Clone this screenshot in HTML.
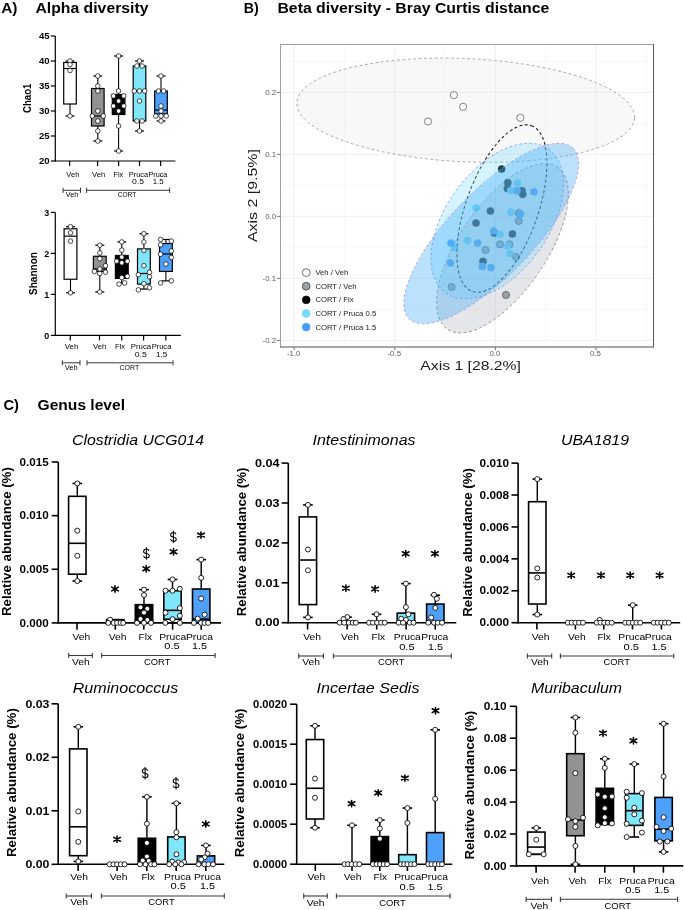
<!DOCTYPE html>
<html><head><meta charset="utf-8"><style>
html,body{margin:0;padding:0;background:#fff;}
svg{display:block;font-family:"Liberation Sans", sans-serif;will-change:transform;}
</style></head><body>
<svg width="685" height="910" viewBox="0 0 685 910">
<rect x="0" y="0" width="685" height="910" fill="#fff"/>
<text x="1.20" y="12.50" font-size="14.8" font-weight="bold" textLength="16.30" lengthAdjust="spacingAndGlyphs" >A)</text>
<text x="35.50" y="12.50" font-size="14.8" font-weight="bold" textLength="112.90" lengthAdjust="spacingAndGlyphs" >Alpha diversity</text>
<line x1="70.00" y1="61.00" x2="70.00" y2="62.50" stroke="#000" stroke-width="1.08" />
<line x1="70.00" y1="104.00" x2="70.00" y2="116.00" stroke="#000" stroke-width="1.08" />
<line x1="65.50" y1="61.00" x2="74.50" y2="61.00" stroke="#000" stroke-width="1.2" />
<line x1="65.50" y1="116.00" x2="74.50" y2="116.00" stroke="#000" stroke-width="1.2" />
<rect x="63.70" y="62.50" width="12.60" height="41.50" fill="#fff" stroke="#000" stroke-width="1.2"/>
<line x1="63.70" y1="68.50" x2="76.30" y2="68.50" stroke="#000" stroke-width="1.2" />
<line x1="97.80" y1="76.00" x2="97.80" y2="88.50" stroke="#000" stroke-width="1.08" />
<line x1="97.80" y1="126.00" x2="97.80" y2="141.00" stroke="#000" stroke-width="1.08" />
<line x1="93.30" y1="76.00" x2="102.30" y2="76.00" stroke="#000" stroke-width="1.2" />
<line x1="93.30" y1="141.00" x2="102.30" y2="141.00" stroke="#000" stroke-width="1.2" />
<rect x="91.50" y="88.50" width="12.60" height="37.50" fill="#929292" stroke="#000" stroke-width="1.2"/>
<line x1="91.50" y1="116.00" x2="104.10" y2="116.00" stroke="#000" stroke-width="1.2" />
<line x1="118.60" y1="56.00" x2="118.60" y2="94.50" stroke="#000" stroke-width="1.08" />
<line x1="118.60" y1="114.50" x2="118.60" y2="151.00" stroke="#000" stroke-width="1.08" />
<line x1="114.10" y1="56.00" x2="123.10" y2="56.00" stroke="#000" stroke-width="1.2" />
<line x1="114.10" y1="151.00" x2="123.10" y2="151.00" stroke="#000" stroke-width="1.2" />
<rect x="112.30" y="94.50" width="12.60" height="20.00" fill="#000" stroke="#000" stroke-width="1.2"/>
<line x1="139.50" y1="61.00" x2="139.50" y2="66.00" stroke="#000" stroke-width="1.08" />
<line x1="139.50" y1="121.00" x2="139.50" y2="131.00" stroke="#000" stroke-width="1.08" />
<line x1="135.00" y1="61.00" x2="144.00" y2="61.00" stroke="#000" stroke-width="1.2" />
<line x1="135.00" y1="131.00" x2="144.00" y2="131.00" stroke="#000" stroke-width="1.2" />
<rect x="133.20" y="66.00" width="12.60" height="55.00" fill="#80e7fb" stroke="#000" stroke-width="1.2"/>
<line x1="133.20" y1="91.00" x2="145.80" y2="91.00" stroke="#000" stroke-width="1.2" />
<line x1="161.00" y1="76.00" x2="161.00" y2="91.00" stroke="#000" stroke-width="1.08" />
<line x1="161.00" y1="114.00" x2="161.00" y2="121.00" stroke="#000" stroke-width="1.08" />
<line x1="156.50" y1="76.00" x2="165.50" y2="76.00" stroke="#000" stroke-width="1.2" />
<line x1="156.50" y1="121.00" x2="165.50" y2="121.00" stroke="#000" stroke-width="1.2" />
<rect x="154.70" y="91.00" width="12.60" height="23.00" fill="#4ea0fa" stroke="#000" stroke-width="1.2"/>
<line x1="154.70" y1="110.00" x2="167.30" y2="110.00" stroke="#000" stroke-width="1.2" />
<line x1="55.30" y1="36.00" x2="55.30" y2="161.60" stroke="#000" stroke-width="1.2" />
<line x1="54.70" y1="161.00" x2="175.40" y2="161.00" stroke="#000" stroke-width="1.2" />
<line x1="50.80" y1="161.00" x2="55.30" y2="161.00" stroke="#000" stroke-width="1.2" />
<text x="49.50" y="164.20" font-size="9.8" font-weight="bold" text-anchor="end" textLength="10.60" lengthAdjust="spacingAndGlyphs" >20</text>
<line x1="50.80" y1="136.00" x2="55.30" y2="136.00" stroke="#000" stroke-width="1.2" />
<text x="49.50" y="139.20" font-size="9.8" font-weight="bold" text-anchor="end" textLength="10.60" lengthAdjust="spacingAndGlyphs" >25</text>
<line x1="50.80" y1="111.00" x2="55.30" y2="111.00" stroke="#000" stroke-width="1.2" />
<text x="49.50" y="114.20" font-size="9.8" font-weight="bold" text-anchor="end" textLength="10.60" lengthAdjust="spacingAndGlyphs" >30</text>
<line x1="50.80" y1="86.00" x2="55.30" y2="86.00" stroke="#000" stroke-width="1.2" />
<text x="49.50" y="89.20" font-size="9.8" font-weight="bold" text-anchor="end" textLength="10.60" lengthAdjust="spacingAndGlyphs" >35</text>
<line x1="50.80" y1="61.00" x2="55.30" y2="61.00" stroke="#000" stroke-width="1.2" />
<text x="49.50" y="64.20" font-size="9.8" font-weight="bold" text-anchor="end" textLength="10.60" lengthAdjust="spacingAndGlyphs" >40</text>
<line x1="50.80" y1="36.00" x2="55.30" y2="36.00" stroke="#000" stroke-width="1.2" />
<text x="49.50" y="39.20" font-size="9.8" font-weight="bold" text-anchor="end" textLength="10.60" lengthAdjust="spacingAndGlyphs" >45</text>
<line x1="69.60" y1="161.00" x2="69.60" y2="166.00" stroke="#000" stroke-width="1.2" />
<line x1="97.60" y1="161.00" x2="97.60" y2="166.00" stroke="#000" stroke-width="1.2" />
<line x1="118.60" y1="161.00" x2="118.60" y2="166.00" stroke="#000" stroke-width="1.2" />
<line x1="139.50" y1="161.00" x2="139.50" y2="166.00" stroke="#000" stroke-width="1.2" />
<line x1="160.60" y1="161.00" x2="160.60" y2="166.00" stroke="#000" stroke-width="1.2" />
<circle cx="70.00" cy="61.00" r="2.3" fill="#fff" stroke="#000" stroke-width="0.7" />
<circle cx="70.00" cy="64.50" r="2.3" fill="#fff" stroke="#000" stroke-width="0.7" />
<circle cx="70.00" cy="70.50" r="2.3" fill="#fff" stroke="#000" stroke-width="0.7" />
<circle cx="70.00" cy="116.00" r="2.3" fill="#fff" stroke="#000" stroke-width="0.7" />
<circle cx="97.80" cy="76.00" r="2.3" fill="#fff" stroke="#000" stroke-width="0.7" />
<circle cx="97.80" cy="86.00" r="2.3" fill="#fff" stroke="#000" stroke-width="0.7" />
<circle cx="97.80" cy="91.00" r="2.3" fill="#fff" stroke="#000" stroke-width="0.7" />
<circle cx="97.80" cy="111.00" r="2.3" fill="#fff" stroke="#000" stroke-width="0.7" />
<circle cx="92.30" cy="116.00" r="2.3" fill="#fff" stroke="#000" stroke-width="0.7" />
<circle cx="103.30" cy="116.00" r="2.3" fill="#fff" stroke="#000" stroke-width="0.7" />
<circle cx="97.80" cy="121.00" r="2.3" fill="#fff" stroke="#000" stroke-width="0.7" />
<circle cx="97.80" cy="131.00" r="2.3" fill="#fff" stroke="#000" stroke-width="0.7" />
<circle cx="97.80" cy="141.00" r="2.3" fill="#fff" stroke="#000" stroke-width="0.7" />
<circle cx="118.60" cy="56.00" r="2.3" fill="#fff" stroke="#000" stroke-width="0.7" />
<circle cx="118.60" cy="91.00" r="2.3" fill="#fff" stroke="#000" stroke-width="0.7" />
<circle cx="113.40" cy="96.00" r="2.3" fill="#fff" stroke="#000" stroke-width="0.7" />
<circle cx="123.80" cy="96.00" r="2.3" fill="#fff" stroke="#000" stroke-width="0.7" />
<circle cx="118.60" cy="101.00" r="2.3" fill="#fff" stroke="#000" stroke-width="0.7" />
<circle cx="113.40" cy="106.00" r="2.3" fill="#fff" stroke="#000" stroke-width="0.7" />
<circle cx="123.80" cy="106.00" r="2.3" fill="#fff" stroke="#000" stroke-width="0.7" />
<circle cx="118.60" cy="111.00" r="2.3" fill="#fff" stroke="#000" stroke-width="0.7" />
<circle cx="118.60" cy="126.00" r="2.3" fill="#fff" stroke="#000" stroke-width="0.7" />
<circle cx="118.60" cy="151.00" r="2.3" fill="#fff" stroke="#000" stroke-width="0.7" />
<circle cx="139.50" cy="61.00" r="2.3" fill="#fff" stroke="#000" stroke-width="0.7" />
<circle cx="136.90" cy="66.00" r="2.3" fill="#fff" stroke="#000" stroke-width="0.7" />
<circle cx="142.10" cy="66.00" r="2.3" fill="#fff" stroke="#000" stroke-width="0.7" />
<circle cx="134.30" cy="91.00" r="2.3" fill="#fff" stroke="#000" stroke-width="0.7" />
<circle cx="139.50" cy="91.00" r="2.3" fill="#fff" stroke="#000" stroke-width="0.7" />
<circle cx="144.70" cy="91.00" r="2.3" fill="#fff" stroke="#000" stroke-width="0.7" />
<circle cx="139.50" cy="101.00" r="2.3" fill="#fff" stroke="#000" stroke-width="0.7" />
<circle cx="136.90" cy="121.00" r="2.3" fill="#fff" stroke="#000" stroke-width="0.7" />
<circle cx="142.10" cy="121.00" r="2.3" fill="#fff" stroke="#000" stroke-width="0.7" />
<circle cx="139.50" cy="131.00" r="2.3" fill="#fff" stroke="#000" stroke-width="0.7" />
<circle cx="161.00" cy="76.00" r="2.3" fill="#fff" stroke="#000" stroke-width="0.7" />
<circle cx="158.40" cy="91.00" r="2.3" fill="#fff" stroke="#000" stroke-width="0.7" />
<circle cx="163.60" cy="91.00" r="2.3" fill="#fff" stroke="#000" stroke-width="0.7" />
<circle cx="161.00" cy="106.00" r="2.3" fill="#fff" stroke="#000" stroke-width="0.7" />
<circle cx="161.00" cy="111.00" r="2.3" fill="#fff" stroke="#000" stroke-width="0.7" />
<circle cx="155.80" cy="116.00" r="2.3" fill="#fff" stroke="#000" stroke-width="0.7" />
<circle cx="161.00" cy="116.00" r="2.3" fill="#fff" stroke="#000" stroke-width="0.7" />
<circle cx="166.20" cy="116.00" r="2.3" fill="#fff" stroke="#000" stroke-width="0.7" />
<circle cx="161.00" cy="121.00" r="2.3" fill="#fff" stroke="#000" stroke-width="0.7" />
<text x="31.50" y="98.30" font-size="10" font-weight="bold" text-anchor="middle" textLength="29.60" lengthAdjust="spacingAndGlyphs" transform="rotate(-90 31.50 98.30)" >Chao1</text>
<text x="72.90" y="177.00" font-size="7.4" text-anchor="middle" textLength="13.10" lengthAdjust="spacingAndGlyphs" >Veh</text>
<text x="98.70" y="177.00" font-size="7.4" text-anchor="middle" textLength="13.20" lengthAdjust="spacingAndGlyphs" >Veh</text>
<text x="118.30" y="177.00" font-size="7.4" text-anchor="middle" textLength="9.80" lengthAdjust="spacingAndGlyphs" >Flx</text>
<text x="138.40" y="177.00" font-size="7.4" text-anchor="middle" textLength="19.30" lengthAdjust="spacingAndGlyphs" >Pruca</text>
<text x="157.90" y="177.00" font-size="7.4" text-anchor="middle" textLength="19.00" lengthAdjust="spacingAndGlyphs" >Pruca</text>
<text x="138.00" y="184.20" font-size="7.4" text-anchor="middle" textLength="12.00" lengthAdjust="spacingAndGlyphs" >0.5</text>
<text x="158.20" y="184.20" font-size="7.4" text-anchor="middle" textLength="10.90" lengthAdjust="spacingAndGlyphs" >1.5</text>
<line x1="63.00" y1="190.30" x2="80.50" y2="190.30" stroke="#222" stroke-width="0.9" />
<line x1="63.00" y1="187.70" x2="63.00" y2="192.90" stroke="#222" stroke-width="0.9" />
<line x1="80.50" y1="187.70" x2="80.50" y2="192.90" stroke="#222" stroke-width="0.9" />
<line x1="86.60" y1="190.30" x2="169.60" y2="190.30" stroke="#222" stroke-width="0.9" />
<line x1="86.60" y1="187.70" x2="86.60" y2="192.90" stroke="#222" stroke-width="0.9" />
<line x1="169.60" y1="187.70" x2="169.60" y2="192.90" stroke="#222" stroke-width="0.9" />
<text x="72.00" y="197.40" font-size="7.4" text-anchor="middle" textLength="12.50" lengthAdjust="spacingAndGlyphs" >Veh</text>
<text x="127.00" y="197.40" font-size="7.4" text-anchor="middle" textLength="18.60" lengthAdjust="spacingAndGlyphs" >CORT</text>
<line x1="70.50" y1="226.75" x2="70.50" y2="228.80" stroke="#000" stroke-width="1.08" />
<line x1="70.50" y1="279.23" x2="70.50" y2="292.76" stroke="#000" stroke-width="1.08" />
<line x1="66.00" y1="226.75" x2="75.00" y2="226.75" stroke="#000" stroke-width="1.2" />
<line x1="66.00" y1="292.76" x2="75.00" y2="292.76" stroke="#000" stroke-width="1.2" />
<rect x="64.10" y="228.80" width="12.80" height="50.43" fill="#fff" stroke="#000" stroke-width="1.2"/>
<line x1="64.10" y1="236.18" x2="76.90" y2="236.18" stroke="#000" stroke-width="1.2" />
<line x1="99.80" y1="245.20" x2="99.80" y2="256.27" stroke="#000" stroke-width="1.08" />
<line x1="99.80" y1="271.44" x2="99.80" y2="291.94" stroke="#000" stroke-width="1.08" />
<line x1="95.30" y1="245.20" x2="104.30" y2="245.20" stroke="#000" stroke-width="1.2" />
<line x1="95.30" y1="291.94" x2="104.30" y2="291.94" stroke="#000" stroke-width="1.2" />
<rect x="93.40" y="256.27" width="12.80" height="15.17" fill="#929292" stroke="#000" stroke-width="1.2"/>
<line x1="93.40" y1="268.98" x2="106.20" y2="268.98" stroke="#000" stroke-width="1.2" />
<line x1="121.80" y1="241.92" x2="121.80" y2="255.45" stroke="#000" stroke-width="1.08" />
<line x1="121.80" y1="278.41" x2="121.80" y2="282.92" stroke="#000" stroke-width="1.08" />
<line x1="117.30" y1="241.92" x2="126.30" y2="241.92" stroke="#000" stroke-width="1.2" />
<line x1="117.30" y1="282.92" x2="126.30" y2="282.92" stroke="#000" stroke-width="1.2" />
<rect x="115.40" y="255.45" width="12.80" height="22.96" fill="#000" stroke="#000" stroke-width="1.2"/>
<line x1="143.90" y1="233.72" x2="143.90" y2="248.89" stroke="#000" stroke-width="1.08" />
<line x1="143.90" y1="284.15" x2="143.90" y2="289.07" stroke="#000" stroke-width="1.08" />
<line x1="139.40" y1="233.72" x2="148.40" y2="233.72" stroke="#000" stroke-width="1.2" />
<line x1="139.40" y1="289.07" x2="148.40" y2="289.07" stroke="#000" stroke-width="1.2" />
<rect x="137.50" y="248.89" width="12.80" height="35.26" fill="#80e7fb" stroke="#000" stroke-width="1.2"/>
<line x1="137.50" y1="273.49" x2="150.30" y2="273.49" stroke="#000" stroke-width="1.2" />
<line x1="165.90" y1="239.46" x2="165.90" y2="243.56" stroke="#000" stroke-width="1.08" />
<line x1="165.90" y1="271.44" x2="165.90" y2="280.87" stroke="#000" stroke-width="1.08" />
<line x1="161.40" y1="239.46" x2="170.40" y2="239.46" stroke="#000" stroke-width="1.2" />
<line x1="161.40" y1="280.87" x2="170.40" y2="280.87" stroke="#000" stroke-width="1.2" />
<rect x="159.50" y="243.56" width="12.80" height="27.88" fill="#4ea0fa" stroke="#000" stroke-width="1.2"/>
<line x1="159.50" y1="254.01" x2="172.30" y2="254.01" stroke="#000" stroke-width="1.2" />
<line x1="55.30" y1="212.40" x2="55.30" y2="336.00" stroke="#000" stroke-width="1.2" />
<line x1="54.70" y1="335.40" x2="180.80" y2="335.40" stroke="#000" stroke-width="1.2" />
<line x1="50.80" y1="335.40" x2="55.30" y2="335.40" stroke="#000" stroke-width="1.2" />
<text x="49.20" y="338.90" font-size="9.8" font-weight="bold" text-anchor="end" textLength="5.00" lengthAdjust="spacingAndGlyphs" >0</text>
<line x1="50.80" y1="294.40" x2="55.30" y2="294.40" stroke="#000" stroke-width="1.2" />
<text x="49.20" y="297.90" font-size="9.8" font-weight="bold" text-anchor="end" textLength="5.00" lengthAdjust="spacingAndGlyphs" >1</text>
<line x1="50.80" y1="253.40" x2="55.30" y2="253.40" stroke="#000" stroke-width="1.2" />
<text x="49.20" y="256.90" font-size="9.8" font-weight="bold" text-anchor="end" textLength="5.00" lengthAdjust="spacingAndGlyphs" >2</text>
<line x1="50.80" y1="212.40" x2="55.30" y2="212.40" stroke="#000" stroke-width="1.2" />
<text x="49.20" y="215.90" font-size="9.8" font-weight="bold" text-anchor="end" textLength="5.00" lengthAdjust="spacingAndGlyphs" >3</text>
<line x1="70.30" y1="335.40" x2="70.30" y2="340.40" stroke="#000" stroke-width="1.2" />
<line x1="99.50" y1="335.40" x2="99.50" y2="340.40" stroke="#000" stroke-width="1.2" />
<line x1="121.70" y1="335.40" x2="121.70" y2="340.40" stroke="#000" stroke-width="1.2" />
<line x1="143.60" y1="335.40" x2="143.60" y2="340.40" stroke="#000" stroke-width="1.2" />
<line x1="165.80" y1="335.40" x2="165.80" y2="340.40" stroke="#000" stroke-width="1.2" />
<circle cx="70.50" cy="226.75" r="2.3" fill="#fff" stroke="#000" stroke-width="0.7" />
<circle cx="70.50" cy="232.90" r="2.3" fill="#fff" stroke="#000" stroke-width="0.7" />
<circle cx="70.50" cy="241.10" r="2.3" fill="#fff" stroke="#000" stroke-width="0.7" />
<circle cx="70.50" cy="292.76" r="2.3" fill="#fff" stroke="#000" stroke-width="0.7" />
<circle cx="99.80" cy="245.20" r="2.3" fill="#fff" stroke="#000" stroke-width="0.7" />
<circle cx="99.80" cy="252.99" r="2.3" fill="#fff" stroke="#000" stroke-width="0.7" />
<circle cx="99.80" cy="258.73" r="2.3" fill="#fff" stroke="#000" stroke-width="0.7" />
<circle cx="105.50" cy="265.70" r="2.3" fill="#fff" stroke="#000" stroke-width="0.7" />
<circle cx="99.80" cy="268.98" r="2.3" fill="#fff" stroke="#000" stroke-width="0.7" />
<circle cx="94.40" cy="271.44" r="2.3" fill="#fff" stroke="#000" stroke-width="0.7" />
<circle cx="105.50" cy="272.26" r="2.3" fill="#fff" stroke="#000" stroke-width="0.7" />
<circle cx="99.80" cy="273.49" r="2.3" fill="#fff" stroke="#000" stroke-width="0.7" />
<circle cx="99.80" cy="291.94" r="2.3" fill="#fff" stroke="#000" stroke-width="0.7" />
<circle cx="121.80" cy="241.92" r="2.3" fill="#fff" stroke="#000" stroke-width="0.7" />
<circle cx="121.80" cy="250.12" r="2.3" fill="#fff" stroke="#000" stroke-width="0.7" />
<circle cx="121.80" cy="257.09" r="2.3" fill="#fff" stroke="#000" stroke-width="0.7" />
<circle cx="116.60" cy="261.19" r="2.3" fill="#fff" stroke="#000" stroke-width="0.7" />
<circle cx="127.30" cy="261.19" r="2.3" fill="#fff" stroke="#000" stroke-width="0.7" />
<circle cx="121.80" cy="262.83" r="2.3" fill="#fff" stroke="#000" stroke-width="0.7" />
<circle cx="121.80" cy="277.59" r="2.3" fill="#fff" stroke="#000" stroke-width="0.7" />
<circle cx="127.30" cy="276.36" r="2.3" fill="#fff" stroke="#000" stroke-width="0.7" />
<circle cx="119.00" cy="284.15" r="2.3" fill="#fff" stroke="#000" stroke-width="0.7" />
<circle cx="124.60" cy="282.92" r="2.3" fill="#fff" stroke="#000" stroke-width="0.7" />
<circle cx="143.90" cy="233.72" r="2.3" fill="#fff" stroke="#000" stroke-width="0.7" />
<circle cx="143.90" cy="241.92" r="2.3" fill="#fff" stroke="#000" stroke-width="0.7" />
<circle cx="143.90" cy="250.53" r="2.3" fill="#fff" stroke="#000" stroke-width="0.7" />
<circle cx="143.90" cy="265.70" r="2.3" fill="#fff" stroke="#000" stroke-width="0.7" />
<circle cx="138.40" cy="274.72" r="2.3" fill="#fff" stroke="#000" stroke-width="0.7" />
<circle cx="149.50" cy="272.26" r="2.3" fill="#fff" stroke="#000" stroke-width="0.7" />
<circle cx="149.50" cy="276.77" r="2.3" fill="#fff" stroke="#000" stroke-width="0.7" />
<circle cx="143.90" cy="283.74" r="2.3" fill="#fff" stroke="#000" stroke-width="0.7" />
<circle cx="138.40" cy="289.89" r="2.3" fill="#fff" stroke="#000" stroke-width="0.7" />
<circle cx="149.50" cy="287.84" r="2.3" fill="#fff" stroke="#000" stroke-width="0.7" />
<circle cx="160.60" cy="239.46" r="2.3" fill="#fff" stroke="#000" stroke-width="0.7" />
<circle cx="171.30" cy="241.10" r="2.3" fill="#fff" stroke="#000" stroke-width="0.7" />
<circle cx="160.60" cy="244.79" r="2.3" fill="#fff" stroke="#000" stroke-width="0.7" />
<circle cx="171.30" cy="250.94" r="2.3" fill="#fff" stroke="#000" stroke-width="0.7" />
<circle cx="160.60" cy="254.22" r="2.3" fill="#fff" stroke="#000" stroke-width="0.7" />
<circle cx="171.30" cy="257.50" r="2.3" fill="#fff" stroke="#000" stroke-width="0.7" />
<circle cx="165.90" cy="264.06" r="2.3" fill="#fff" stroke="#000" stroke-width="0.7" />
<circle cx="160.60" cy="282.92" r="2.3" fill="#fff" stroke="#000" stroke-width="0.7" />
<circle cx="171.30" cy="280.87" r="2.3" fill="#fff" stroke="#000" stroke-width="0.7" />
<text x="36.50" y="273.50" font-size="10" font-weight="bold" text-anchor="middle" textLength="43.00" lengthAdjust="spacingAndGlyphs" transform="rotate(-90 36.50 273.50)" >Shannon</text>
<text x="71.50" y="348.60" font-size="7.4" text-anchor="middle" textLength="13.60" lengthAdjust="spacingAndGlyphs" >Veh</text>
<text x="99.60" y="348.60" font-size="7.4" text-anchor="middle" textLength="13.30" lengthAdjust="spacingAndGlyphs" >Veh</text>
<text x="120.00" y="348.60" font-size="7.4" text-anchor="middle" textLength="9.90" lengthAdjust="spacingAndGlyphs" >Flx</text>
<text x="141.00" y="348.60" font-size="7.4" text-anchor="middle" textLength="20.30" lengthAdjust="spacingAndGlyphs" >Pruca</text>
<text x="161.50" y="348.60" font-size="7.4" text-anchor="middle" textLength="19.70" lengthAdjust="spacingAndGlyphs" >Pruca</text>
<text x="140.80" y="356.70" font-size="7.4" text-anchor="middle" textLength="12.00" lengthAdjust="spacingAndGlyphs" >0.5</text>
<text x="161.70" y="356.70" font-size="7.4" text-anchor="middle" textLength="11.40" lengthAdjust="spacingAndGlyphs" >1.5</text>
<line x1="62.30" y1="362.80" x2="80.00" y2="362.80" stroke="#222" stroke-width="0.9" />
<line x1="62.30" y1="360.20" x2="62.30" y2="365.40" stroke="#222" stroke-width="0.9" />
<line x1="80.00" y1="360.20" x2="80.00" y2="365.40" stroke="#222" stroke-width="0.9" />
<line x1="87.00" y1="362.80" x2="173.00" y2="362.80" stroke="#222" stroke-width="0.9" />
<line x1="87.00" y1="360.20" x2="87.00" y2="365.40" stroke="#222" stroke-width="0.9" />
<line x1="173.00" y1="360.20" x2="173.00" y2="365.40" stroke="#222" stroke-width="0.9" />
<text x="71.20" y="370.20" font-size="7.4" text-anchor="middle" textLength="13.00" lengthAdjust="spacingAndGlyphs" >Veh</text>
<text x="129.40" y="370.20" font-size="7.4" text-anchor="middle" textLength="19.70" lengthAdjust="spacingAndGlyphs" >CORT</text>
<text x="243.70" y="12.80" font-size="14.8" font-weight="bold" textLength="15.00" lengthAdjust="spacingAndGlyphs" >B)</text>
<text x="277.40" y="12.80" font-size="14.8" font-weight="bold" textLength="271.90" lengthAdjust="spacingAndGlyphs" >Beta diversity - Bray Curtis distance</text>
<line x1="344.50" y1="44.50" x2="344.50" y2="347.00" stroke="#f0f0f0" stroke-width="0.5" />
<line x1="445.10" y1="44.50" x2="445.10" y2="347.00" stroke="#f0f0f0" stroke-width="0.5" />
<line x1="545.70" y1="44.50" x2="545.70" y2="347.00" stroke="#f0f0f0" stroke-width="0.5" />
<line x1="646.30" y1="44.50" x2="646.30" y2="347.00" stroke="#f0f0f0" stroke-width="0.5" />
<line x1="280.50" y1="61.40" x2="653.50" y2="61.40" stroke="#f0f0f0" stroke-width="0.5" />
<line x1="280.50" y1="123.40" x2="653.50" y2="123.40" stroke="#f0f0f0" stroke-width="0.5" />
<line x1="280.50" y1="185.40" x2="653.50" y2="185.40" stroke="#f0f0f0" stroke-width="0.5" />
<line x1="280.50" y1="247.40" x2="653.50" y2="247.40" stroke="#f0f0f0" stroke-width="0.5" />
<line x1="280.50" y1="309.40" x2="653.50" y2="309.40" stroke="#f0f0f0" stroke-width="0.5" />
<line x1="294.20" y1="44.50" x2="294.20" y2="347.00" stroke="#eeeeee" stroke-width="0.9" />
<line x1="394.80" y1="44.50" x2="394.80" y2="347.00" stroke="#eeeeee" stroke-width="0.9" />
<line x1="495.40" y1="44.50" x2="495.40" y2="347.00" stroke="#eeeeee" stroke-width="0.9" />
<line x1="596.00" y1="44.50" x2="596.00" y2="347.00" stroke="#eeeeee" stroke-width="0.9" />
<line x1="280.50" y1="92.40" x2="653.50" y2="92.40" stroke="#eeeeee" stroke-width="0.9" />
<line x1="280.50" y1="154.40" x2="653.50" y2="154.40" stroke="#eeeeee" stroke-width="0.9" />
<line x1="280.50" y1="216.40" x2="653.50" y2="216.40" stroke="#eeeeee" stroke-width="0.9" />
<line x1="280.50" y1="278.40" x2="653.50" y2="278.40" stroke="#eeeeee" stroke-width="0.9" />
<line x1="280.50" y1="340.40" x2="653.50" y2="340.40" stroke="#eeeeee" stroke-width="0.9" />
<circle cx="453.90" cy="95.10" r="3.6" fill="#fff" stroke="#333" stroke-width="0.7" />
<circle cx="463.10" cy="106.80" r="3.6" fill="#fff" stroke="#333" stroke-width="0.7" />
<circle cx="428.00" cy="121.50" r="3.6" fill="#fff" stroke="#333" stroke-width="0.7" />
<circle cx="520.30" cy="117.80" r="3.6" fill="#fff" stroke="#333" stroke-width="0.7" />
<circle cx="518.70" cy="213.00" r="3.6" fill="#9ba1a8" stroke="#333" stroke-width="0.7" />
<circle cx="518.70" cy="221.00" r="3.6" fill="#9ba1a8" stroke="#333" stroke-width="0.7" />
<circle cx="500.00" cy="244.40" r="3.6" fill="#9ba1a8" stroke="#333" stroke-width="0.7" />
<circle cx="509.60" cy="244.40" r="3.6" fill="#9ba1a8" stroke="#333" stroke-width="0.7" />
<circle cx="485.60" cy="250.00" r="3.6" fill="#9ba1a8" stroke="#333" stroke-width="0.7" />
<circle cx="516.00" cy="257.00" r="3.6" fill="#9ba1a8" stroke="#333" stroke-width="0.7" />
<circle cx="451.60" cy="287.00" r="3.6" fill="#9ba1a8" stroke="#333" stroke-width="0.7" />
<circle cx="506.00" cy="295.00" r="3.6" fill="#9ba1a8" stroke="#333" stroke-width="0.7" />
<circle cx="501.60" cy="169.00" r="3.6" fill="#000" stroke="#000" stroke-width="0.5" />
<circle cx="507.80" cy="182.70" r="3.6" fill="#000" stroke="#000" stroke-width="0.5" />
<circle cx="507.40" cy="188.50" r="3.6" fill="#000" stroke="#000" stroke-width="0.5" />
<circle cx="522.00" cy="190.70" r="3.6" fill="#000" stroke="#000" stroke-width="0.5" />
<circle cx="522.70" cy="194.30" r="3.6" fill="#000" stroke="#000" stroke-width="0.5" />
<circle cx="490.40" cy="211.00" r="3.6" fill="#000" stroke="#000" stroke-width="0.5" />
<circle cx="476.00" cy="223.00" r="3.6" fill="#000" stroke="#000" stroke-width="0.5" />
<circle cx="494.40" cy="233.00" r="3.6" fill="#000" stroke="#000" stroke-width="0.5" />
<circle cx="512.40" cy="234.00" r="3.6" fill="#000" stroke="#000" stroke-width="0.5" />
<circle cx="483.00" cy="261.40" r="3.6" fill="#000" stroke="#000" stroke-width="0.5" />
<circle cx="517.30" cy="183.00" r="3.6" fill="#74dcfa" stroke="#74dcfa" stroke-width="0.5" />
<circle cx="510.70" cy="190.70" r="3.6" fill="#74dcfa" stroke="#74dcfa" stroke-width="0.5" />
<circle cx="476.00" cy="208.00" r="3.6" fill="#74dcfa" stroke="#74dcfa" stroke-width="0.5" />
<circle cx="510.70" cy="212.20" r="3.6" fill="#74dcfa" stroke="#74dcfa" stroke-width="0.5" />
<circle cx="500.00" cy="234.40" r="3.6" fill="#74dcfa" stroke="#74dcfa" stroke-width="0.5" />
<circle cx="467.40" cy="240.60" r="3.6" fill="#74dcfa" stroke="#74dcfa" stroke-width="0.5" />
<circle cx="454.40" cy="247.60" r="3.6" fill="#74dcfa" stroke="#74dcfa" stroke-width="0.5" />
<circle cx="507.40" cy="246.00" r="3.6" fill="#74dcfa" stroke="#74dcfa" stroke-width="0.5" />
<circle cx="510.00" cy="253.60" r="3.6" fill="#74dcfa" stroke="#74dcfa" stroke-width="0.5" />
<circle cx="516.90" cy="190.70" r="3.6" fill="#4a9df6" stroke="#4a9df6" stroke-width="0.5" />
<circle cx="534.00" cy="191.80" r="3.6" fill="#4a9df6" stroke="#4a9df6" stroke-width="0.5" />
<circle cx="520.50" cy="214.00" r="3.6" fill="#4a9df6" stroke="#4a9df6" stroke-width="0.5" />
<circle cx="493.60" cy="231.00" r="3.6" fill="#4a9df6" stroke="#4a9df6" stroke-width="0.5" />
<circle cx="451.00" cy="243.00" r="3.6" fill="#4a9df6" stroke="#4a9df6" stroke-width="0.5" />
<circle cx="477.60" cy="243.00" r="3.6" fill="#4a9df6" stroke="#4a9df6" stroke-width="0.5" />
<circle cx="450.40" cy="263.00" r="3.6" fill="#4a9df6" stroke="#4a9df6" stroke-width="0.5" />
<circle cx="482.40" cy="266.40" r="3.6" fill="#4a9df6" stroke="#4a9df6" stroke-width="0.5" />
<circle cx="491.00" cy="267.60" r="3.6" fill="#4a9df6" stroke="#4a9df6" stroke-width="0.5" />
<ellipse cx="465.7" cy="110.2" rx="169.0" ry="51.6" transform="rotate(2.6 465.7 110.2)" fill="#dcdcdc" fill-opacity="0.2" stroke="#8a8a8a" stroke-width="0.7" stroke-dasharray="2.9 2.5"/>
<ellipse cx="502.5" cy="248.2" rx="98.0" ry="43.7" transform="rotate(-55.8 502.5 248.2)" fill="#9aa0aa" fill-opacity="0.26" stroke="#7e7e7e" stroke-width="0.7" stroke-dasharray="2.9 2.5"/>
<ellipse cx="501.9" cy="208.6" rx="88.0" ry="36.1" transform="rotate(-70.4 501.9 208.6)" fill="none" fill-opacity="0" stroke="#111" stroke-width="1.0" stroke-dasharray="3 2.4"/>
<ellipse cx="497.2" cy="221.1" rx="88.4" ry="51.2" transform="rotate(-54.4 497.2 221.1)" fill="#73dcfa" fill-opacity="0.3" stroke="#7d95f2" stroke-width="0.75" stroke-dasharray="2.6 2.4"/>
<ellipse cx="491.2" cy="233.6" rx="118.3" ry="42.2" transform="rotate(-46.2 491.2 233.6)" fill="#3caafa" fill-opacity="0.35" stroke="#a492d6" stroke-width="0.75" stroke-dasharray="2.6 2.4"/>
<line x1="280.00" y1="44.50" x2="654.00" y2="44.50" stroke="#a0a0a0" stroke-width="1" />
<line x1="280.50" y1="44.00" x2="280.50" y2="347.50" stroke="#a0a0a0" stroke-width="1" />
<line x1="653.50" y1="44.00" x2="653.50" y2="347.50" stroke="#5a5a5a" stroke-width="1" />
<line x1="280.00" y1="347.00" x2="654.00" y2="347.00" stroke="#888888" stroke-width="1.5" />
<line x1="277.00" y1="92.40" x2="280.50" y2="92.40" stroke="#777" stroke-width="1.0" />
<text x="276.20" y="95.20" font-size="7.9" text-anchor="end" fill="#5e5e5e" >0.2</text>
<line x1="277.00" y1="154.40" x2="280.50" y2="154.40" stroke="#777" stroke-width="1.0" />
<text x="276.20" y="157.20" font-size="7.9" text-anchor="end" fill="#5e5e5e" >0.1</text>
<line x1="277.00" y1="216.40" x2="280.50" y2="216.40" stroke="#777" stroke-width="1.0" />
<text x="276.20" y="219.20" font-size="7.9" text-anchor="end" fill="#5e5e5e" >0.0</text>
<line x1="277.00" y1="278.40" x2="280.50" y2="278.40" stroke="#777" stroke-width="1.0" />
<text x="276.20" y="281.20" font-size="7.9" text-anchor="end" fill="#5e5e5e" >-0.1</text>
<line x1="277.00" y1="340.40" x2="280.50" y2="340.40" stroke="#777" stroke-width="1.0" />
<text x="276.20" y="343.20" font-size="7.9" text-anchor="end" fill="#5e5e5e" >-0.2</text>
<line x1="294.20" y1="347.00" x2="294.20" y2="350.30" stroke="#777" stroke-width="1.0" />
<text x="293.70" y="356.00" font-size="7.9" text-anchor="middle" fill="#5e5e5e" >-1.0</text>
<line x1="394.80" y1="347.00" x2="394.80" y2="350.30" stroke="#777" stroke-width="1.0" />
<text x="394.30" y="356.00" font-size="7.9" text-anchor="middle" fill="#5e5e5e" >-0.5</text>
<line x1="495.40" y1="347.00" x2="495.40" y2="350.30" stroke="#777" stroke-width="1.0" />
<text x="494.90" y="356.00" font-size="7.9" text-anchor="middle" fill="#5e5e5e" >0.0</text>
<line x1="596.00" y1="347.00" x2="596.00" y2="350.30" stroke="#777" stroke-width="1.0" />
<text x="595.50" y="356.00" font-size="7.9" text-anchor="middle" fill="#5e5e5e" >0.5</text>
<text x="257.20" y="195.60" font-size="13.7" text-anchor="middle" fill="#1a1a1a" textLength="93.00" lengthAdjust="spacingAndGlyphs" transform="rotate(-90 257.20 195.60)" >Axis 2 [9.5%]</text>
<text x="470.60" y="370.20" font-size="13.7" text-anchor="middle" fill="#1a1a1a" textLength="100.50" lengthAdjust="spacingAndGlyphs" >Axis 1 [28.2%]</text>
<circle cx="306.20" cy="272.60" r="3.9" fill="#fff" stroke="#333" stroke-width="0.7" />
<text x="315.40" y="275.00" font-size="7.7" fill="#1a1a1a" >Veh / Veh</text>
<circle cx="306.20" cy="286.23" r="3.9" fill="#9ba1a8" stroke="#333" stroke-width="0.7" />
<text x="315.40" y="288.63" font-size="7.7" fill="#1a1a1a" >CORT / Veh</text>
<circle cx="306.20" cy="299.86" r="3.9" fill="#000" stroke="#000" stroke-width="0.7" />
<text x="315.40" y="302.26" font-size="7.7" fill="#1a1a1a" >CORT / Flx</text>
<circle cx="306.20" cy="313.49" r="3.9" fill="#74dcfa" stroke="#74dcfa" stroke-width="0.7" />
<text x="315.40" y="315.89" font-size="7.7" fill="#1a1a1a" >CORT / Pruca 0.5</text>
<circle cx="306.20" cy="327.12" r="3.9" fill="#4a9df6" stroke="#4a9df6" stroke-width="0.7" />
<text x="315.40" y="329.52" font-size="7.7" fill="#1a1a1a" >CORT / Pruca 1.5</text>
<text x="3.40" y="410.00" font-size="14.8" font-weight="bold" textLength="15.50" lengthAdjust="spacingAndGlyphs" >C)</text>
<text x="37.60" y="410.00" font-size="14.8" font-weight="bold" textLength="87.40" lengthAdjust="spacingAndGlyphs" >Genus level</text>
<line x1="77.30" y1="483.45" x2="77.30" y2="496.32" stroke="#000" stroke-width="1.4400000000000002" />
<line x1="77.30" y1="574.20" x2="77.30" y2="581.06" stroke="#000" stroke-width="1.4400000000000002" />
<line x1="72.50" y1="483.45" x2="82.10" y2="483.45" stroke="#000" stroke-width="1.6" />
<line x1="72.50" y1="581.06" x2="82.10" y2="581.06" stroke="#000" stroke-width="1.6" />
<rect x="68.60" y="496.32" width="17.40" height="77.88" fill="#fff" stroke="#000" stroke-width="1.6"/>
<line x1="68.60" y1="543.31" x2="86.00" y2="543.31" stroke="#000" stroke-width="1.6" />
<line x1="115.30" y1="619.68" x2="115.30" y2="619.68" stroke="#000" stroke-width="1.4400000000000002" />
<line x1="115.30" y1="622.90" x2="115.30" y2="622.90" stroke="#000" stroke-width="1.4400000000000002" />
<line x1="110.50" y1="619.68" x2="120.10" y2="619.68" stroke="#000" stroke-width="1.6" />
<line x1="110.50" y1="622.90" x2="120.10" y2="622.90" stroke="#000" stroke-width="1.6" />
<rect x="106.60" y="619.68" width="17.40" height="3.22" fill="#fff" stroke="#000" stroke-width="1.6"/>
<line x1="144.00" y1="589.65" x2="144.00" y2="604.66" stroke="#000" stroke-width="1.4400000000000002" />
<line x1="144.00" y1="622.90" x2="144.00" y2="622.90" stroke="#000" stroke-width="1.4400000000000002" />
<line x1="139.20" y1="589.65" x2="148.80" y2="589.65" stroke="#000" stroke-width="1.6" />
<line x1="139.20" y1="622.90" x2="148.80" y2="622.90" stroke="#000" stroke-width="1.6" />
<rect x="135.30" y="604.66" width="17.40" height="18.24" fill="#000" stroke="#000" stroke-width="1.6"/>
<line x1="172.50" y1="579.46" x2="172.50" y2="590.72" stroke="#000" stroke-width="1.4400000000000002" />
<line x1="172.50" y1="619.25" x2="172.50" y2="622.90" stroke="#000" stroke-width="1.4400000000000002" />
<line x1="167.70" y1="579.46" x2="177.30" y2="579.46" stroke="#000" stroke-width="1.6" />
<line x1="167.70" y1="622.90" x2="177.30" y2="622.90" stroke="#000" stroke-width="1.6" />
<rect x="163.80" y="590.72" width="17.40" height="28.53" fill="#80e7fb" stroke="#000" stroke-width="1.6"/>
<line x1="163.80" y1="610.35" x2="181.20" y2="610.35" stroke="#000" stroke-width="1.6" />
<line x1="201.20" y1="559.61" x2="201.20" y2="589.00" stroke="#000" stroke-width="1.4400000000000002" />
<line x1="201.20" y1="622.90" x2="201.20" y2="622.90" stroke="#000" stroke-width="1.4400000000000002" />
<line x1="196.40" y1="559.61" x2="206.00" y2="559.61" stroke="#000" stroke-width="1.6" />
<line x1="196.40" y1="622.90" x2="206.00" y2="622.90" stroke="#000" stroke-width="1.6" />
<rect x="192.50" y="589.00" width="17.40" height="33.90" fill="#4ea0fa" stroke="#000" stroke-width="1.6"/>
<line x1="192.50" y1="619.15" x2="209.90" y2="619.15" stroke="#000" stroke-width="1.6" />
<line x1="58.30" y1="462.00" x2="58.30" y2="623.70" stroke="#000" stroke-width="1.6" />
<line x1="57.50" y1="622.90" x2="221.00" y2="622.90" stroke="#000" stroke-width="1.6" />
<line x1="51.70" y1="622.90" x2="58.30" y2="622.90" stroke="#000" stroke-width="1.6" />
<text x="48.80" y="626.60" font-size="10.5" font-weight="bold" text-anchor="end" textLength="29.20" lengthAdjust="spacingAndGlyphs" >0.000</text>
<line x1="51.70" y1="569.26" x2="58.30" y2="569.26" stroke="#000" stroke-width="1.6" />
<text x="48.80" y="572.97" font-size="10.5" font-weight="bold" text-anchor="end" textLength="29.20" lengthAdjust="spacingAndGlyphs" >0.005</text>
<line x1="51.70" y1="515.63" x2="58.30" y2="515.63" stroke="#000" stroke-width="1.6" />
<text x="48.80" y="519.33" font-size="10.5" font-weight="bold" text-anchor="end" textLength="29.20" lengthAdjust="spacingAndGlyphs" >0.010</text>
<line x1="51.70" y1="462.00" x2="58.30" y2="462.00" stroke="#000" stroke-width="1.6" />
<text x="48.80" y="465.69" font-size="10.5" font-weight="bold" text-anchor="end" textLength="29.20" lengthAdjust="spacingAndGlyphs" >0.015</text>
<line x1="77.00" y1="622.90" x2="77.00" y2="629.70" stroke="#000" stroke-width="1.6" />
<line x1="115.30" y1="622.90" x2="115.30" y2="629.70" stroke="#000" stroke-width="1.6" />
<line x1="143.80" y1="622.90" x2="143.80" y2="629.70" stroke="#000" stroke-width="1.6" />
<line x1="172.60" y1="622.90" x2="172.60" y2="629.70" stroke="#000" stroke-width="1.6" />
<line x1="201.20" y1="622.90" x2="201.20" y2="629.70" stroke="#000" stroke-width="1.6" />
<circle cx="77.30" cy="483.45" r="2.5" fill="#fff" stroke="#000" stroke-width="0.85" />
<circle cx="77.30" cy="530.65" r="2.5" fill="#fff" stroke="#000" stroke-width="0.85" />
<circle cx="77.30" cy="555.75" r="2.5" fill="#fff" stroke="#000" stroke-width="0.85" />
<circle cx="77.30" cy="581.06" r="2.5" fill="#fff" stroke="#000" stroke-width="0.85" />
<circle cx="110.10" cy="619.68" r="2.5" fill="#fff" stroke="#000" stroke-width="0.85" />
<circle cx="108.30" cy="622.90" r="2.5" fill="#fff" stroke="#000" stroke-width="0.85" />
<circle cx="113.60" cy="622.90" r="2.5" fill="#fff" stroke="#000" stroke-width="0.85" />
<circle cx="117.10" cy="622.90" r="2.5" fill="#fff" stroke="#000" stroke-width="0.85" />
<circle cx="120.60" cy="622.90" r="2.5" fill="#fff" stroke="#000" stroke-width="0.85" />
<circle cx="123.20" cy="622.90" r="2.5" fill="#fff" stroke="#000" stroke-width="0.85" />
<circle cx="144.00" cy="589.65" r="2.5" fill="#fff" stroke="#000" stroke-width="0.85" />
<circle cx="144.00" cy="595.01" r="2.5" fill="#fff" stroke="#000" stroke-width="0.85" />
<circle cx="140.50" cy="607.35" r="2.5" fill="#fff" stroke="#000" stroke-width="0.85" />
<circle cx="147.30" cy="608.74" r="2.5" fill="#fff" stroke="#000" stroke-width="0.85" />
<circle cx="144.00" cy="612.60" r="2.5" fill="#fff" stroke="#000" stroke-width="0.85" />
<circle cx="140.50" cy="619.04" r="2.5" fill="#fff" stroke="#000" stroke-width="0.85" />
<circle cx="147.30" cy="619.90" r="2.5" fill="#fff" stroke="#000" stroke-width="0.85" />
<circle cx="137.00" cy="622.90" r="2.5" fill="#fff" stroke="#000" stroke-width="0.85" />
<circle cx="144.00" cy="622.90" r="2.5" fill="#fff" stroke="#000" stroke-width="0.85" />
<circle cx="151.00" cy="622.90" r="2.5" fill="#fff" stroke="#000" stroke-width="0.85" />
<circle cx="172.50" cy="579.46" r="2.5" fill="#fff" stroke="#000" stroke-width="0.85" />
<circle cx="165.50" cy="590.72" r="2.5" fill="#fff" stroke="#000" stroke-width="0.85" />
<circle cx="172.50" cy="590.72" r="2.5" fill="#fff" stroke="#000" stroke-width="0.85" />
<circle cx="179.80" cy="588.79" r="2.5" fill="#fff" stroke="#000" stroke-width="0.85" />
<circle cx="179.80" cy="608.10" r="2.5" fill="#fff" stroke="#000" stroke-width="0.85" />
<circle cx="165.50" cy="612.71" r="2.5" fill="#fff" stroke="#000" stroke-width="0.85" />
<circle cx="179.80" cy="615.71" r="2.5" fill="#fff" stroke="#000" stroke-width="0.85" />
<circle cx="172.50" cy="619.15" r="2.5" fill="#fff" stroke="#000" stroke-width="0.85" />
<circle cx="165.30" cy="622.90" r="2.5" fill="#fff" stroke="#000" stroke-width="0.85" />
<circle cx="179.80" cy="622.90" r="2.5" fill="#fff" stroke="#000" stroke-width="0.85" />
<circle cx="201.20" cy="559.61" r="2.5" fill="#fff" stroke="#000" stroke-width="0.85" />
<circle cx="201.20" cy="577.85" r="2.5" fill="#fff" stroke="#000" stroke-width="0.85" />
<circle cx="201.20" cy="598.55" r="2.5" fill="#fff" stroke="#000" stroke-width="0.85" />
<circle cx="204.60" cy="614.64" r="2.5" fill="#fff" stroke="#000" stroke-width="0.85" />
<circle cx="197.70" cy="618.61" r="2.5" fill="#fff" stroke="#000" stroke-width="0.85" />
<circle cx="193.90" cy="622.90" r="2.5" fill="#fff" stroke="#000" stroke-width="0.85" />
<circle cx="201.00" cy="622.90" r="2.5" fill="#fff" stroke="#000" stroke-width="0.85" />
<circle cx="204.50" cy="622.90" r="2.5" fill="#fff" stroke="#000" stroke-width="0.85" />
<circle cx="208.10" cy="622.90" r="2.5" fill="#fff" stroke="#000" stroke-width="0.85" />
<path d="M115.00 585.85V592.15M111.70 587.10L118.30 590.90M111.70 590.90L118.30 587.10" stroke="#000" stroke-width="1.60" stroke-linecap="round" fill="none"/>
<path d="M146.20 565.65V571.95M142.90 566.90L149.50 570.70M142.90 570.70L149.50 566.90" stroke="#000" stroke-width="1.60" stroke-linecap="round" fill="none"/>
<path d="M149.04 550.89C148.56 549.45 147.54 549.00 146.40 549.00C144.75 549.00 143.64 550.08 143.64 551.48C143.64 553.14 144.90 553.37 146.40 553.59C147.96 553.86 149.25 554.22 149.25 555.75C149.25 557.19 148.05 558.00 146.40 558.00C145.05 558.00 143.94 557.37 143.55 555.84M146.40 547.30V559.70" fill="none" stroke="#000" stroke-width="1.05"/>
<path d="M173.50 548.65V554.95M170.20 549.90L176.80 553.70M170.20 553.70L176.80 549.90" stroke="#000" stroke-width="1.60" stroke-linecap="round" fill="none"/>
<path d="M176.04 534.29C175.56 532.85 174.54 532.40 173.40 532.40C171.75 532.40 170.64 533.48 170.64 534.88C170.64 536.54 171.90 536.76 173.40 536.99C174.96 537.26 176.25 537.62 176.25 539.15C176.25 540.59 175.05 541.40 173.40 541.40C172.05 541.40 170.94 540.77 170.55 539.24M173.40 530.70V543.10" fill="none" stroke="#000" stroke-width="1.05"/>
<path d="M201.00 531.95V538.25M197.70 533.20L204.30 537.00M197.70 537.00L204.30 533.20" stroke="#000" stroke-width="1.60" stroke-linecap="round" fill="none"/>
<text x="138.00" y="444.70" font-size="15" font-style="italic" text-anchor="middle" textLength="132.00" lengthAdjust="spacingAndGlyphs" >Clostridia UCG014</text>
<text x="10.90" y="541.60" font-size="12.3" font-weight="bold" text-anchor="middle" textLength="148.80" lengthAdjust="spacingAndGlyphs" transform="rotate(-90 10.90 541.60)" >Relative abundance (%)</text>
<text x="81.40" y="639.60" font-size="8.6" text-anchor="middle" textLength="17.80" lengthAdjust="spacingAndGlyphs" >Veh</text>
<text x="117.70" y="639.60" font-size="8.6" text-anchor="middle" textLength="17.80" lengthAdjust="spacingAndGlyphs" >Veh</text>
<text x="145.30" y="639.60" font-size="8.6" text-anchor="middle" textLength="13.40" lengthAdjust="spacingAndGlyphs" >Flx</text>
<text x="172.70" y="639.60" font-size="8.6" text-anchor="middle" textLength="27.00" lengthAdjust="spacingAndGlyphs" >Pruca</text>
<text x="199.40" y="639.60" font-size="8.6" text-anchor="middle" textLength="27.00" lengthAdjust="spacingAndGlyphs" >Pruca</text>
<text x="172.00" y="649.10" font-size="8.6" text-anchor="middle" textLength="15.50" lengthAdjust="spacingAndGlyphs" >0.5</text>
<text x="199.60" y="649.10" font-size="8.6" text-anchor="middle" textLength="15.00" lengthAdjust="spacingAndGlyphs" >1.5</text>
<line x1="68.70" y1="655.50" x2="92.30" y2="655.50" stroke="#3a3a3a" stroke-width="1.1" />
<line x1="68.70" y1="652.90" x2="68.70" y2="658.10" stroke="#3a3a3a" stroke-width="1.1" />
<line x1="92.30" y1="652.90" x2="92.30" y2="658.10" stroke="#3a3a3a" stroke-width="1.1" />
<line x1="101.70" y1="655.50" x2="215.10" y2="655.50" stroke="#3a3a3a" stroke-width="1.1" />
<line x1="101.70" y1="652.90" x2="101.70" y2="658.10" stroke="#3a3a3a" stroke-width="1.1" />
<line x1="215.10" y1="652.90" x2="215.10" y2="658.10" stroke="#3a3a3a" stroke-width="1.1" />
<text x="80.90" y="665.20" font-size="8.6" text-anchor="middle" textLength="17.80" lengthAdjust="spacingAndGlyphs" >Veh</text>
<text x="157.20" y="665.20" font-size="8.6" text-anchor="middle" textLength="26.50" lengthAdjust="spacingAndGlyphs" >CORT</text>
<line x1="307.90" y1="504.92" x2="307.90" y2="516.89" stroke="#000" stroke-width="1.4400000000000002" />
<line x1="307.90" y1="604.60" x2="307.90" y2="617.39" stroke="#000" stroke-width="1.4400000000000002" />
<line x1="303.10" y1="504.92" x2="312.70" y2="504.92" stroke="#000" stroke-width="1.6" />
<line x1="303.10" y1="617.39" x2="312.70" y2="617.39" stroke="#000" stroke-width="1.6" />
<rect x="299.20" y="516.89" width="17.40" height="87.72" fill="#fff" stroke="#000" stroke-width="1.6"/>
<line x1="299.20" y1="560.02" x2="316.60" y2="560.02" stroke="#000" stroke-width="1.6" />
<line x1="347.10" y1="617.11" x2="347.10" y2="621.50" stroke="#000" stroke-width="1.4400000000000002" />
<line x1="347.10" y1="622.70" x2="347.10" y2="622.70" stroke="#000" stroke-width="1.4400000000000002" />
<line x1="342.30" y1="617.11" x2="351.90" y2="617.11" stroke="#000" stroke-width="1.6" />
<line x1="342.30" y1="622.70" x2="351.90" y2="622.70" stroke="#000" stroke-width="1.6" />
<rect x="338.40" y="621.50" width="17.40" height="1.20" fill="#fff" stroke="#000" stroke-width="1.6"/>
<line x1="376.60" y1="614.32" x2="376.60" y2="622.30" stroke="#000" stroke-width="1.4400000000000002" />
<line x1="376.60" y1="622.70" x2="376.60" y2="622.70" stroke="#000" stroke-width="1.4400000000000002" />
<line x1="371.80" y1="614.32" x2="381.40" y2="614.32" stroke="#000" stroke-width="1.6" />
<line x1="371.80" y1="622.70" x2="381.40" y2="622.70" stroke="#000" stroke-width="1.6" />
<rect x="367.90" y="622.30" width="17.40" height="0.40" fill="#fff" stroke="#000" stroke-width="1.6"/>
<line x1="405.90" y1="583.60" x2="405.90" y2="613.12" stroke="#000" stroke-width="1.4400000000000002" />
<line x1="405.90" y1="622.70" x2="405.90" y2="622.70" stroke="#000" stroke-width="1.4400000000000002" />
<line x1="401.10" y1="583.60" x2="410.70" y2="583.60" stroke="#000" stroke-width="1.6" />
<line x1="401.10" y1="622.70" x2="410.70" y2="622.70" stroke="#000" stroke-width="1.6" />
<rect x="397.20" y="613.12" width="17.40" height="9.58" fill="#80e7fb" stroke="#000" stroke-width="1.6"/>
<line x1="435.30" y1="595.17" x2="435.30" y2="604.07" stroke="#000" stroke-width="1.4400000000000002" />
<line x1="435.30" y1="622.70" x2="435.30" y2="622.70" stroke="#000" stroke-width="1.4400000000000002" />
<line x1="430.50" y1="595.17" x2="440.10" y2="595.17" stroke="#000" stroke-width="1.6" />
<line x1="430.50" y1="622.70" x2="440.10" y2="622.70" stroke="#000" stroke-width="1.6" />
<rect x="426.60" y="604.07" width="17.40" height="18.63" fill="#4ea0fa" stroke="#000" stroke-width="1.6"/>
<line x1="288.30" y1="463.10" x2="288.30" y2="623.50" stroke="#000" stroke-width="1.6" />
<line x1="287.50" y1="622.70" x2="456.30" y2="622.70" stroke="#000" stroke-width="1.6" />
<line x1="281.70" y1="622.70" x2="288.30" y2="622.70" stroke="#000" stroke-width="1.6" />
<text x="279.60" y="626.40" font-size="10.5" font-weight="bold" text-anchor="end" textLength="24.60" lengthAdjust="spacingAndGlyphs" >0.00</text>
<line x1="281.70" y1="582.80" x2="288.30" y2="582.80" stroke="#000" stroke-width="1.6" />
<text x="279.60" y="586.50" font-size="10.5" font-weight="bold" text-anchor="end" textLength="24.60" lengthAdjust="spacingAndGlyphs" >0.01</text>
<line x1="281.70" y1="542.90" x2="288.30" y2="542.90" stroke="#000" stroke-width="1.6" />
<text x="279.60" y="546.60" font-size="10.5" font-weight="bold" text-anchor="end" textLength="24.60" lengthAdjust="spacingAndGlyphs" >0.02</text>
<line x1="281.70" y1="503.00" x2="288.30" y2="503.00" stroke="#000" stroke-width="1.6" />
<text x="279.60" y="506.70" font-size="10.5" font-weight="bold" text-anchor="end" textLength="24.60" lengthAdjust="spacingAndGlyphs" >0.03</text>
<line x1="281.70" y1="463.10" x2="288.30" y2="463.10" stroke="#000" stroke-width="1.6" />
<text x="279.60" y="466.80" font-size="10.5" font-weight="bold" text-anchor="end" textLength="24.60" lengthAdjust="spacingAndGlyphs" >0.04</text>
<line x1="307.60" y1="622.70" x2="307.60" y2="629.50" stroke="#000" stroke-width="1.6" />
<line x1="347.10" y1="622.70" x2="347.10" y2="629.50" stroke="#000" stroke-width="1.6" />
<line x1="376.70" y1="622.70" x2="376.70" y2="629.50" stroke="#000" stroke-width="1.6" />
<line x1="406.10" y1="622.70" x2="406.10" y2="629.50" stroke="#000" stroke-width="1.6" />
<line x1="435.20" y1="622.70" x2="435.20" y2="629.50" stroke="#000" stroke-width="1.6" />
<circle cx="307.90" cy="504.92" r="2.5" fill="#fff" stroke="#000" stroke-width="0.85" />
<circle cx="307.90" cy="549.48" r="2.5" fill="#fff" stroke="#000" stroke-width="0.85" />
<circle cx="307.90" cy="570.31" r="2.5" fill="#fff" stroke="#000" stroke-width="0.85" />
<circle cx="307.90" cy="617.39" r="2.5" fill="#fff" stroke="#000" stroke-width="0.85" />
<circle cx="347.30" cy="617.11" r="2.5" fill="#fff" stroke="#000" stroke-width="0.85" />
<circle cx="343.50" cy="619.11" r="2.5" fill="#fff" stroke="#000" stroke-width="0.85" />
<circle cx="339.60" cy="622.70" r="2.5" fill="#fff" stroke="#000" stroke-width="0.85" />
<circle cx="344.20" cy="622.70" r="2.5" fill="#fff" stroke="#000" stroke-width="0.85" />
<circle cx="348.80" cy="622.70" r="2.5" fill="#fff" stroke="#000" stroke-width="0.85" />
<circle cx="352.70" cy="622.70" r="2.5" fill="#fff" stroke="#000" stroke-width="0.85" />
<circle cx="355.80" cy="622.70" r="2.5" fill="#fff" stroke="#000" stroke-width="0.85" />
<circle cx="376.60" cy="614.32" r="2.5" fill="#fff" stroke="#000" stroke-width="0.85" />
<circle cx="369.10" cy="622.70" r="2.5" fill="#fff" stroke="#000" stroke-width="0.85" />
<circle cx="372.90" cy="622.70" r="2.5" fill="#fff" stroke="#000" stroke-width="0.85" />
<circle cx="377.10" cy="622.70" r="2.5" fill="#fff" stroke="#000" stroke-width="0.85" />
<circle cx="381.20" cy="622.70" r="2.5" fill="#fff" stroke="#000" stroke-width="0.85" />
<circle cx="384.70" cy="622.70" r="2.5" fill="#fff" stroke="#000" stroke-width="0.85" />
<circle cx="405.90" cy="583.60" r="2.5" fill="#fff" stroke="#000" stroke-width="0.85" />
<circle cx="405.90" cy="607.14" r="2.5" fill="#fff" stroke="#000" stroke-width="0.85" />
<circle cx="408.40" cy="614.32" r="2.5" fill="#fff" stroke="#000" stroke-width="0.85" />
<circle cx="401.20" cy="618.71" r="2.5" fill="#fff" stroke="#000" stroke-width="0.85" />
<circle cx="405.90" cy="619.91" r="2.5" fill="#fff" stroke="#000" stroke-width="0.85" />
<circle cx="398.70" cy="622.70" r="2.5" fill="#fff" stroke="#000" stroke-width="0.85" />
<circle cx="403.10" cy="622.70" r="2.5" fill="#fff" stroke="#000" stroke-width="0.85" />
<circle cx="409.70" cy="622.70" r="2.5" fill="#fff" stroke="#000" stroke-width="0.85" />
<circle cx="413.50" cy="622.70" r="2.5" fill="#fff" stroke="#000" stroke-width="0.85" />
<circle cx="434.00" cy="594.77" r="2.5" fill="#fff" stroke="#000" stroke-width="0.85" />
<circle cx="436.90" cy="598.76" r="2.5" fill="#fff" stroke="#000" stroke-width="0.85" />
<circle cx="435.30" cy="607.94" r="2.5" fill="#fff" stroke="#000" stroke-width="0.85" />
<circle cx="431.20" cy="617.51" r="2.5" fill="#fff" stroke="#000" stroke-width="0.85" />
<circle cx="428.30" cy="622.70" r="2.5" fill="#fff" stroke="#000" stroke-width="0.85" />
<circle cx="434.00" cy="622.70" r="2.5" fill="#fff" stroke="#000" stroke-width="0.85" />
<circle cx="437.80" cy="622.70" r="2.5" fill="#fff" stroke="#000" stroke-width="0.85" />
<circle cx="442.00" cy="622.70" r="2.5" fill="#fff" stroke="#000" stroke-width="0.85" />
<path d="M345.90 585.05V591.35M342.60 586.30L349.20 590.10M342.60 590.10L349.20 586.30" stroke="#000" stroke-width="1.60" stroke-linecap="round" fill="none"/>
<path d="M375.10 585.85V592.15M371.80 587.10L378.40 590.90M371.80 590.90L378.40 587.10" stroke="#000" stroke-width="1.60" stroke-linecap="round" fill="none"/>
<path d="M405.70 550.55V556.85M402.40 551.80L409.00 555.60M402.40 555.60L409.00 551.80" stroke="#000" stroke-width="1.60" stroke-linecap="round" fill="none"/>
<path d="M434.90 550.55V556.85M431.60 551.80L438.20 555.60M431.60 555.60L438.20 551.80" stroke="#000" stroke-width="1.60" stroke-linecap="round" fill="none"/>
<text x="364.00" y="444.70" font-size="15" font-style="italic" text-anchor="middle" textLength="103.00" lengthAdjust="spacingAndGlyphs" >Intestinimonas</text>
<text x="246.30" y="541.90" font-size="12.3" font-weight="bold" text-anchor="middle" textLength="148.80" lengthAdjust="spacingAndGlyphs" transform="rotate(-90 246.30 541.90)" >Relative abundance (%)</text>
<text x="312.10" y="639.90" font-size="8.6" text-anchor="middle" textLength="17.80" lengthAdjust="spacingAndGlyphs" >Veh</text>
<text x="350.00" y="639.90" font-size="8.6" text-anchor="middle" textLength="17.80" lengthAdjust="spacingAndGlyphs" >Veh</text>
<text x="378.30" y="639.90" font-size="8.6" text-anchor="middle" textLength="13.40" lengthAdjust="spacingAndGlyphs" >Flx</text>
<text x="407.30" y="639.90" font-size="8.6" text-anchor="middle" textLength="27.00" lengthAdjust="spacingAndGlyphs" >Pruca</text>
<text x="434.80" y="639.90" font-size="8.6" text-anchor="middle" textLength="27.00" lengthAdjust="spacingAndGlyphs" >Pruca</text>
<text x="406.90" y="649.60" font-size="8.6" text-anchor="middle" textLength="15.50" lengthAdjust="spacingAndGlyphs" >0.5</text>
<text x="435.50" y="649.60" font-size="8.6" text-anchor="middle" textLength="15.00" lengthAdjust="spacingAndGlyphs" >1.5</text>
<line x1="298.70" y1="656.00" x2="323.50" y2="656.00" stroke="#3a3a3a" stroke-width="1.1" />
<line x1="298.70" y1="653.40" x2="298.70" y2="658.60" stroke="#3a3a3a" stroke-width="1.1" />
<line x1="323.50" y1="653.40" x2="323.50" y2="658.60" stroke="#3a3a3a" stroke-width="1.1" />
<line x1="333.40" y1="656.00" x2="451.30" y2="656.00" stroke="#3a3a3a" stroke-width="1.1" />
<line x1="333.40" y1="653.40" x2="333.40" y2="658.60" stroke="#3a3a3a" stroke-width="1.1" />
<line x1="451.30" y1="653.40" x2="451.30" y2="658.60" stroke="#3a3a3a" stroke-width="1.1" />
<text x="311.10" y="665.20" font-size="8.6" text-anchor="middle" textLength="17.80" lengthAdjust="spacingAndGlyphs" >Veh</text>
<text x="391.20" y="665.20" font-size="8.6" text-anchor="middle" textLength="26.50" lengthAdjust="spacingAndGlyphs" >CORT</text>
<line x1="537.30" y1="479.06" x2="537.30" y2="501.72" stroke="#000" stroke-width="1.4400000000000002" />
<line x1="537.30" y1="604.03" x2="537.30" y2="614.56" stroke="#000" stroke-width="1.4400000000000002" />
<line x1="532.50" y1="479.06" x2="542.10" y2="479.06" stroke="#000" stroke-width="1.6" />
<line x1="532.50" y1="614.56" x2="542.10" y2="614.56" stroke="#000" stroke-width="1.6" />
<rect x="528.60" y="501.72" width="17.40" height="102.30" fill="#fff" stroke="#000" stroke-width="1.6"/>
<line x1="528.60" y1="572.90" x2="546.00" y2="572.90" stroke="#000" stroke-width="1.6" />
<line x1="575.40" y1="622.70" x2="575.40" y2="622.70" stroke="#000" stroke-width="1.4400000000000002" />
<line x1="575.40" y1="622.70" x2="575.40" y2="622.70" stroke="#000" stroke-width="1.4400000000000002" />
<line x1="570.60" y1="622.70" x2="580.20" y2="622.70" stroke="#000" stroke-width="1.6" />
<line x1="570.60" y1="622.70" x2="580.20" y2="622.70" stroke="#000" stroke-width="1.6" />
<rect x="566.70" y="622.70" width="17.40" height="0.00" fill="#fff" stroke="#000" stroke-width="1.6"/>
<line x1="604.20" y1="621.10" x2="604.20" y2="622.70" stroke="#000" stroke-width="1.4400000000000002" />
<line x1="604.20" y1="622.70" x2="604.20" y2="622.70" stroke="#000" stroke-width="1.4400000000000002" />
<line x1="599.40" y1="621.10" x2="609.00" y2="621.10" stroke="#000" stroke-width="1.6" />
<line x1="599.40" y1="622.70" x2="609.00" y2="622.70" stroke="#000" stroke-width="1.6" />
<rect x="595.50" y="622.70" width="17.40" height="0.00" fill="#fff" stroke="#000" stroke-width="1.6"/>
<line x1="632.70" y1="605.14" x2="632.70" y2="622.70" stroke="#000" stroke-width="1.4400000000000002" />
<line x1="632.70" y1="622.70" x2="632.70" y2="622.70" stroke="#000" stroke-width="1.4400000000000002" />
<line x1="627.90" y1="605.14" x2="637.50" y2="605.14" stroke="#000" stroke-width="1.6" />
<line x1="627.90" y1="622.70" x2="637.50" y2="622.70" stroke="#000" stroke-width="1.6" />
<rect x="624.00" y="622.70" width="17.40" height="0.00" fill="#80e7fb" stroke="#000" stroke-width="1.6"/>
<line x1="661.30" y1="622.70" x2="661.30" y2="622.70" stroke="#000" stroke-width="1.4400000000000002" />
<line x1="661.30" y1="622.70" x2="661.30" y2="622.70" stroke="#000" stroke-width="1.4400000000000002" />
<line x1="656.50" y1="622.70" x2="666.10" y2="622.70" stroke="#000" stroke-width="1.6" />
<line x1="656.50" y1="622.70" x2="666.10" y2="622.70" stroke="#000" stroke-width="1.6" />
<rect x="652.60" y="622.70" width="17.40" height="0.00" fill="#4ea0fa" stroke="#000" stroke-width="1.6"/>
<line x1="518.10" y1="463.10" x2="518.10" y2="623.50" stroke="#000" stroke-width="1.6" />
<line x1="517.30" y1="622.70" x2="680.20" y2="622.70" stroke="#000" stroke-width="1.6" />
<line x1="511.50" y1="622.70" x2="518.10" y2="622.70" stroke="#000" stroke-width="1.6" />
<text x="509.00" y="626.40" font-size="10.5" font-weight="bold" text-anchor="end" textLength="29.40" lengthAdjust="spacingAndGlyphs" >0.000</text>
<line x1="511.50" y1="590.78" x2="518.10" y2="590.78" stroke="#000" stroke-width="1.6" />
<text x="509.00" y="594.48" font-size="10.5" font-weight="bold" text-anchor="end" textLength="29.40" lengthAdjust="spacingAndGlyphs" >0.002</text>
<line x1="511.50" y1="558.86" x2="518.10" y2="558.86" stroke="#000" stroke-width="1.6" />
<text x="509.00" y="562.56" font-size="10.5" font-weight="bold" text-anchor="end" textLength="29.40" lengthAdjust="spacingAndGlyphs" >0.004</text>
<line x1="511.50" y1="526.94" x2="518.10" y2="526.94" stroke="#000" stroke-width="1.6" />
<text x="509.00" y="530.64" font-size="10.5" font-weight="bold" text-anchor="end" textLength="29.40" lengthAdjust="spacingAndGlyphs" >0.006</text>
<line x1="511.50" y1="495.02" x2="518.10" y2="495.02" stroke="#000" stroke-width="1.6" />
<text x="509.00" y="498.72" font-size="10.5" font-weight="bold" text-anchor="end" textLength="29.40" lengthAdjust="spacingAndGlyphs" >0.008</text>
<line x1="511.50" y1="463.10" x2="518.10" y2="463.10" stroke="#000" stroke-width="1.6" />
<text x="509.00" y="466.80" font-size="10.5" font-weight="bold" text-anchor="end" textLength="29.40" lengthAdjust="spacingAndGlyphs" >0.010</text>
<line x1="536.90" y1="622.70" x2="536.90" y2="629.50" stroke="#000" stroke-width="1.6" />
<line x1="575.40" y1="622.70" x2="575.40" y2="629.50" stroke="#000" stroke-width="1.6" />
<line x1="603.80" y1="622.70" x2="603.80" y2="629.50" stroke="#000" stroke-width="1.6" />
<line x1="632.50" y1="622.70" x2="632.50" y2="629.50" stroke="#000" stroke-width="1.6" />
<line x1="661.40" y1="622.70" x2="661.40" y2="629.50" stroke="#000" stroke-width="1.6" />
<circle cx="537.30" cy="479.06" r="2.5" fill="#fff" stroke="#000" stroke-width="0.85" />
<circle cx="537.30" cy="568.44" r="2.5" fill="#fff" stroke="#000" stroke-width="0.85" />
<circle cx="537.30" cy="577.53" r="2.5" fill="#fff" stroke="#000" stroke-width="0.85" />
<circle cx="537.30" cy="614.56" r="2.5" fill="#fff" stroke="#000" stroke-width="0.85" />
<circle cx="567.90" cy="622.70" r="2.5" fill="#fff" stroke="#000" stroke-width="0.85" />
<circle cx="571.70" cy="622.70" r="2.5" fill="#fff" stroke="#000" stroke-width="0.85" />
<circle cx="575.40" cy="622.70" r="2.5" fill="#fff" stroke="#000" stroke-width="0.85" />
<circle cx="579.10" cy="622.70" r="2.5" fill="#fff" stroke="#000" stroke-width="0.85" />
<circle cx="582.90" cy="622.70" r="2.5" fill="#fff" stroke="#000" stroke-width="0.85" />
<circle cx="599.70" cy="619.83" r="2.5" fill="#fff" stroke="#000" stroke-width="0.85" />
<circle cx="596.70" cy="622.70" r="2.5" fill="#fff" stroke="#000" stroke-width="0.85" />
<circle cx="600.50" cy="622.70" r="2.5" fill="#fff" stroke="#000" stroke-width="0.85" />
<circle cx="604.20" cy="622.70" r="2.5" fill="#fff" stroke="#000" stroke-width="0.85" />
<circle cx="607.90" cy="622.70" r="2.5" fill="#fff" stroke="#000" stroke-width="0.85" />
<circle cx="611.70" cy="622.70" r="2.5" fill="#fff" stroke="#000" stroke-width="0.85" />
<circle cx="632.70" cy="605.14" r="2.5" fill="#fff" stroke="#000" stroke-width="0.85" />
<circle cx="625.20" cy="622.70" r="2.5" fill="#fff" stroke="#000" stroke-width="0.85" />
<circle cx="629.00" cy="622.70" r="2.5" fill="#fff" stroke="#000" stroke-width="0.85" />
<circle cx="632.70" cy="622.70" r="2.5" fill="#fff" stroke="#000" stroke-width="0.85" />
<circle cx="636.40" cy="622.70" r="2.5" fill="#fff" stroke="#000" stroke-width="0.85" />
<circle cx="640.20" cy="622.70" r="2.5" fill="#fff" stroke="#000" stroke-width="0.85" />
<circle cx="653.80" cy="622.70" r="2.5" fill="#fff" stroke="#000" stroke-width="0.85" />
<circle cx="657.60" cy="622.70" r="2.5" fill="#fff" stroke="#000" stroke-width="0.85" />
<circle cx="661.30" cy="622.70" r="2.5" fill="#fff" stroke="#000" stroke-width="0.85" />
<circle cx="665.00" cy="622.70" r="2.5" fill="#fff" stroke="#000" stroke-width="0.85" />
<circle cx="668.80" cy="622.70" r="2.5" fill="#fff" stroke="#000" stroke-width="0.85" />
<path d="M571.20 572.15V578.45M567.90 573.40L574.50 577.20M567.90 577.20L574.50 573.40" stroke="#000" stroke-width="1.60" stroke-linecap="round" fill="none"/>
<path d="M601.00 572.15V578.45M597.70 573.40L604.30 577.20M597.70 577.20L604.30 573.40" stroke="#000" stroke-width="1.60" stroke-linecap="round" fill="none"/>
<path d="M630.20 572.15V578.45M626.90 573.40L633.50 577.20M626.90 577.20L633.50 573.40" stroke="#000" stroke-width="1.60" stroke-linecap="round" fill="none"/>
<path d="M659.60 572.15V578.45M656.30 573.40L662.90 577.20M656.30 577.20L662.90 573.40" stroke="#000" stroke-width="1.60" stroke-linecap="round" fill="none"/>
<text x="595.00" y="444.70" font-size="15" font-style="italic" text-anchor="middle" textLength="68.00" lengthAdjust="spacingAndGlyphs" >UBA1819</text>
<text x="471.70" y="542.40" font-size="12.3" font-weight="bold" text-anchor="middle" textLength="148.80" lengthAdjust="spacingAndGlyphs" transform="rotate(-90 471.70 542.40)" >Relative abundance (%)</text>
<text x="540.60" y="639.90" font-size="8.6" text-anchor="middle" textLength="17.80" lengthAdjust="spacingAndGlyphs" >Veh</text>
<text x="576.80" y="639.90" font-size="8.6" text-anchor="middle" textLength="17.80" lengthAdjust="spacingAndGlyphs" >Veh</text>
<text x="604.10" y="639.90" font-size="8.6" text-anchor="middle" textLength="13.40" lengthAdjust="spacingAndGlyphs" >Flx</text>
<text x="631.80" y="639.90" font-size="8.6" text-anchor="middle" textLength="27.00" lengthAdjust="spacingAndGlyphs" >Pruca</text>
<text x="658.30" y="639.90" font-size="8.6" text-anchor="middle" textLength="27.00" lengthAdjust="spacingAndGlyphs" >Pruca</text>
<text x="631.30" y="649.60" font-size="8.6" text-anchor="middle" textLength="15.50" lengthAdjust="spacingAndGlyphs" >0.5</text>
<text x="659.00" y="649.60" font-size="8.6" text-anchor="middle" textLength="15.00" lengthAdjust="spacingAndGlyphs" >1.5</text>
<line x1="527.40" y1="656.00" x2="551.70" y2="656.00" stroke="#3a3a3a" stroke-width="1.1" />
<line x1="527.40" y1="653.40" x2="527.40" y2="658.60" stroke="#3a3a3a" stroke-width="1.1" />
<line x1="551.70" y1="653.40" x2="551.70" y2="658.60" stroke="#3a3a3a" stroke-width="1.1" />
<line x1="560.40" y1="656.00" x2="673.80" y2="656.00" stroke="#3a3a3a" stroke-width="1.1" />
<line x1="560.40" y1="653.40" x2="560.40" y2="658.60" stroke="#3a3a3a" stroke-width="1.1" />
<line x1="673.80" y1="653.40" x2="673.80" y2="658.60" stroke="#3a3a3a" stroke-width="1.1" />
<text x="539.80" y="665.20" font-size="8.6" text-anchor="middle" textLength="17.80" lengthAdjust="spacingAndGlyphs" >Veh</text>
<text x="616.70" y="665.20" font-size="8.6" text-anchor="middle" textLength="26.50" lengthAdjust="spacingAndGlyphs" >CORT</text>
<line x1="78.30" y1="726.80" x2="78.30" y2="748.90" stroke="#000" stroke-width="1.4400000000000002" />
<line x1="78.30" y1="855.69" x2="78.30" y2="861.41" stroke="#000" stroke-width="1.4400000000000002" />
<line x1="73.50" y1="726.80" x2="83.10" y2="726.80" stroke="#000" stroke-width="1.6" />
<line x1="73.50" y1="861.41" x2="83.10" y2="861.41" stroke="#000" stroke-width="1.6" />
<rect x="69.60" y="748.90" width="17.40" height="106.79" fill="#fff" stroke="#000" stroke-width="1.6"/>
<line x1="69.60" y1="826.80" x2="87.00" y2="826.80" stroke="#000" stroke-width="1.6" />
<line x1="117.10" y1="864.30" x2="117.10" y2="864.30" stroke="#000" stroke-width="1.4400000000000002" />
<line x1="117.10" y1="864.30" x2="117.10" y2="864.30" stroke="#000" stroke-width="1.4400000000000002" />
<line x1="112.30" y1="864.30" x2="121.90" y2="864.30" stroke="#000" stroke-width="1.6" />
<line x1="112.30" y1="864.30" x2="121.90" y2="864.30" stroke="#000" stroke-width="1.6" />
<rect x="108.40" y="864.30" width="17.40" height="0.00" fill="#fff" stroke="#000" stroke-width="1.6"/>
<line x1="146.90" y1="796.89" x2="146.90" y2="838.30" stroke="#000" stroke-width="1.4400000000000002" />
<line x1="146.90" y1="864.30" x2="146.90" y2="864.30" stroke="#000" stroke-width="1.4400000000000002" />
<line x1="142.10" y1="796.89" x2="151.70" y2="796.89" stroke="#000" stroke-width="1.6" />
<line x1="142.10" y1="864.30" x2="151.70" y2="864.30" stroke="#000" stroke-width="1.6" />
<rect x="138.20" y="838.30" width="17.40" height="26.00" fill="#000" stroke="#000" stroke-width="1.6"/>
<line x1="176.40" y1="803.31" x2="176.40" y2="836.91" stroke="#000" stroke-width="1.4400000000000002" />
<line x1="176.40" y1="864.30" x2="176.40" y2="864.30" stroke="#000" stroke-width="1.4400000000000002" />
<line x1="171.60" y1="803.31" x2="181.20" y2="803.31" stroke="#000" stroke-width="1.6" />
<line x1="171.60" y1="864.30" x2="181.20" y2="864.30" stroke="#000" stroke-width="1.6" />
<rect x="167.70" y="836.91" width="17.40" height="27.39" fill="#80e7fb" stroke="#000" stroke-width="1.6"/>
<line x1="206.00" y1="845.41" x2="206.00" y2="855.90" stroke="#000" stroke-width="1.4400000000000002" />
<line x1="206.00" y1="864.30" x2="206.00" y2="864.30" stroke="#000" stroke-width="1.4400000000000002" />
<line x1="201.20" y1="845.41" x2="210.80" y2="845.41" stroke="#000" stroke-width="1.6" />
<line x1="201.20" y1="864.30" x2="210.80" y2="864.30" stroke="#000" stroke-width="1.6" />
<rect x="197.30" y="855.90" width="17.40" height="8.40" fill="#4ea0fa" stroke="#000" stroke-width="1.6"/>
<line x1="58.20" y1="703.80" x2="58.20" y2="865.10" stroke="#000" stroke-width="1.6" />
<line x1="57.40" y1="864.30" x2="224.30" y2="864.30" stroke="#000" stroke-width="1.6" />
<line x1="51.60" y1="864.30" x2="58.20" y2="864.30" stroke="#000" stroke-width="1.6" />
<text x="49.40" y="868.00" font-size="10.5" font-weight="bold" text-anchor="end" textLength="24.00" lengthAdjust="spacingAndGlyphs" >0.00</text>
<line x1="51.60" y1="810.80" x2="58.20" y2="810.80" stroke="#000" stroke-width="1.6" />
<text x="49.40" y="814.50" font-size="10.5" font-weight="bold" text-anchor="end" textLength="24.00" lengthAdjust="spacingAndGlyphs" >0.01</text>
<line x1="51.60" y1="757.30" x2="58.20" y2="757.30" stroke="#000" stroke-width="1.6" />
<text x="49.40" y="761.00" font-size="10.5" font-weight="bold" text-anchor="end" textLength="24.00" lengthAdjust="spacingAndGlyphs" >0.02</text>
<line x1="51.60" y1="703.80" x2="58.20" y2="703.80" stroke="#000" stroke-width="1.6" />
<text x="49.40" y="707.50" font-size="10.5" font-weight="bold" text-anchor="end" textLength="24.00" lengthAdjust="spacingAndGlyphs" >0.03</text>
<line x1="78.10" y1="864.30" x2="78.10" y2="871.10" stroke="#000" stroke-width="1.6" />
<line x1="117.10" y1="864.30" x2="117.10" y2="871.10" stroke="#000" stroke-width="1.6" />
<line x1="146.80" y1="864.30" x2="146.80" y2="871.10" stroke="#000" stroke-width="1.6" />
<line x1="176.20" y1="864.30" x2="176.20" y2="871.10" stroke="#000" stroke-width="1.6" />
<line x1="205.80" y1="864.30" x2="205.80" y2="871.10" stroke="#000" stroke-width="1.6" />
<circle cx="78.30" cy="726.80" r="2.5" fill="#fff" stroke="#000" stroke-width="0.85" />
<circle cx="78.30" cy="811.39" r="2.5" fill="#fff" stroke="#000" stroke-width="0.85" />
<circle cx="78.30" cy="841.83" r="2.5" fill="#fff" stroke="#000" stroke-width="0.85" />
<circle cx="78.30" cy="861.41" r="2.5" fill="#fff" stroke="#000" stroke-width="0.85" />
<circle cx="109.60" cy="864.30" r="2.5" fill="#fff" stroke="#000" stroke-width="0.85" />
<circle cx="113.40" cy="864.30" r="2.5" fill="#fff" stroke="#000" stroke-width="0.85" />
<circle cx="117.10" cy="864.30" r="2.5" fill="#fff" stroke="#000" stroke-width="0.85" />
<circle cx="120.80" cy="864.30" r="2.5" fill="#fff" stroke="#000" stroke-width="0.85" />
<circle cx="124.60" cy="864.30" r="2.5" fill="#fff" stroke="#000" stroke-width="0.85" />
<circle cx="146.90" cy="796.89" r="2.5" fill="#fff" stroke="#000" stroke-width="0.85" />
<circle cx="146.90" cy="823.64" r="2.5" fill="#fff" stroke="#000" stroke-width="0.85" />
<circle cx="146.90" cy="842.90" r="2.5" fill="#fff" stroke="#000" stroke-width="0.85" />
<circle cx="146.90" cy="856.60" r="2.5" fill="#fff" stroke="#000" stroke-width="0.85" />
<circle cx="142.80" cy="860.55" r="2.5" fill="#fff" stroke="#000" stroke-width="0.85" />
<circle cx="148.80" cy="860.88" r="2.5" fill="#fff" stroke="#000" stroke-width="0.85" />
<circle cx="140.00" cy="864.30" r="2.5" fill="#fff" stroke="#000" stroke-width="0.85" />
<circle cx="145.50" cy="864.30" r="2.5" fill="#fff" stroke="#000" stroke-width="0.85" />
<circle cx="151.10" cy="864.30" r="2.5" fill="#fff" stroke="#000" stroke-width="0.85" />
<circle cx="154.40" cy="864.30" r="2.5" fill="#fff" stroke="#000" stroke-width="0.85" />
<circle cx="176.40" cy="803.31" r="2.5" fill="#fff" stroke="#000" stroke-width="0.85" />
<circle cx="176.40" cy="832.20" r="2.5" fill="#fff" stroke="#000" stroke-width="0.85" />
<circle cx="176.40" cy="837.28" r="2.5" fill="#fff" stroke="#000" stroke-width="0.85" />
<circle cx="176.40" cy="854.30" r="2.5" fill="#fff" stroke="#000" stroke-width="0.85" />
<circle cx="172.20" cy="861.62" r="2.5" fill="#fff" stroke="#000" stroke-width="0.85" />
<circle cx="184.10" cy="862.16" r="2.5" fill="#fff" stroke="#000" stroke-width="0.85" />
<circle cx="178.20" cy="862.43" r="2.5" fill="#fff" stroke="#000" stroke-width="0.85" />
<circle cx="169.20" cy="864.30" r="2.5" fill="#fff" stroke="#000" stroke-width="0.85" />
<circle cx="175.30" cy="864.30" r="2.5" fill="#fff" stroke="#000" stroke-width="0.85" />
<circle cx="181.40" cy="864.30" r="2.5" fill="#fff" stroke="#000" stroke-width="0.85" />
<circle cx="206.00" cy="845.41" r="2.5" fill="#fff" stroke="#000" stroke-width="0.85" />
<circle cx="207.50" cy="853.60" r="2.5" fill="#fff" stroke="#000" stroke-width="0.85" />
<circle cx="204.70" cy="857.34" r="2.5" fill="#fff" stroke="#000" stroke-width="0.85" />
<circle cx="201.20" cy="859.48" r="2.5" fill="#fff" stroke="#000" stroke-width="0.85" />
<circle cx="198.50" cy="864.30" r="2.5" fill="#fff" stroke="#000" stroke-width="0.85" />
<circle cx="204.40" cy="864.30" r="2.5" fill="#fff" stroke="#000" stroke-width="0.85" />
<circle cx="208.40" cy="864.30" r="2.5" fill="#fff" stroke="#000" stroke-width="0.85" />
<circle cx="213.00" cy="864.30" r="2.5" fill="#fff" stroke="#000" stroke-width="0.85" />
<path d="M117.10 836.15V842.45M113.80 837.40L120.40 841.20M113.80 841.20L120.40 837.40" stroke="#000" stroke-width="1.60" stroke-linecap="round" fill="none"/>
<path d="M147.74 770.69C147.26 769.25 146.24 768.80 145.10 768.80C143.45 768.80 142.34 769.88 142.34 771.27C142.34 772.94 143.60 773.16 145.10 773.39C146.66 773.66 147.95 774.02 147.95 775.55C147.95 776.99 146.75 777.80 145.10 777.80C143.75 777.80 142.64 777.17 142.25 775.64M145.10 767.10V779.50" fill="none" stroke="#000" stroke-width="1.05"/>
<path d="M178.64 780.59C178.16 779.15 177.14 778.70 176.00 778.70C174.35 778.70 173.24 779.78 173.24 781.18C173.24 782.84 174.50 783.07 176.00 783.29C177.56 783.56 178.85 783.92 178.85 785.45C178.85 786.89 177.65 787.70 176.00 787.70C174.65 787.70 173.54 787.07 173.15 785.54M176.00 777.00V789.40" fill="none" stroke="#000" stroke-width="1.05"/>
<path d="M205.80 820.85V827.15M202.50 822.10L209.10 825.90M202.50 825.90L209.10 822.10" stroke="#000" stroke-width="1.60" stroke-linecap="round" fill="none"/>
<text x="125.50" y="693.20" font-size="15" font-style="italic" text-anchor="middle" textLength="105.50" lengthAdjust="spacingAndGlyphs" >Ruminococcus</text>
<text x="16.10" y="782.60" font-size="12.3" font-weight="bold" text-anchor="middle" textLength="148.80" lengthAdjust="spacingAndGlyphs" transform="rotate(-90 16.10 782.60)" >Relative abundance (%)</text>
<text x="79.20" y="879.60" font-size="8.6" text-anchor="middle" textLength="17.80" lengthAdjust="spacingAndGlyphs" >Veh</text>
<text x="118.70" y="879.60" font-size="8.6" text-anchor="middle" textLength="17.80" lengthAdjust="spacingAndGlyphs" >Veh</text>
<text x="148.10" y="879.60" font-size="8.6" text-anchor="middle" textLength="13.40" lengthAdjust="spacingAndGlyphs" >Flx</text>
<text x="177.60" y="879.60" font-size="8.6" text-anchor="middle" textLength="27.00" lengthAdjust="spacingAndGlyphs" >Pruca</text>
<text x="207.40" y="879.60" font-size="8.6" text-anchor="middle" textLength="27.00" lengthAdjust="spacingAndGlyphs" >Pruca</text>
<text x="178.20" y="889.10" font-size="8.6" text-anchor="middle" textLength="15.50" lengthAdjust="spacingAndGlyphs" >0.5</text>
<text x="207.40" y="889.10" font-size="8.6" text-anchor="middle" textLength="15.00" lengthAdjust="spacingAndGlyphs" >1.5</text>
<line x1="66.20" y1="896.00" x2="91.50" y2="896.00" stroke="#3a3a3a" stroke-width="1.1" />
<line x1="66.20" y1="893.40" x2="66.20" y2="898.60" stroke="#3a3a3a" stroke-width="1.1" />
<line x1="91.50" y1="893.40" x2="91.50" y2="898.60" stroke="#3a3a3a" stroke-width="1.1" />
<line x1="101.40" y1="896.00" x2="224.30" y2="896.00" stroke="#3a3a3a" stroke-width="1.1" />
<line x1="101.40" y1="893.40" x2="101.40" y2="898.60" stroke="#3a3a3a" stroke-width="1.1" />
<line x1="224.30" y1="893.40" x2="224.30" y2="898.60" stroke="#3a3a3a" stroke-width="1.1" />
<text x="79.10" y="905.00" font-size="8.6" text-anchor="middle" textLength="17.80" lengthAdjust="spacingAndGlyphs" >Veh</text>
<text x="161.40" y="905.00" font-size="8.6" text-anchor="middle" textLength="26.50" lengthAdjust="spacingAndGlyphs" >CORT</text>
<line x1="315.00" y1="725.80" x2="315.00" y2="739.56" stroke="#000" stroke-width="1.4400000000000002" />
<line x1="315.00" y1="819.00" x2="315.00" y2="827.72" stroke="#000" stroke-width="1.4400000000000002" />
<line x1="310.20" y1="725.80" x2="319.80" y2="725.80" stroke="#000" stroke-width="1.6" />
<line x1="310.20" y1="827.72" x2="319.80" y2="827.72" stroke="#000" stroke-width="1.6" />
<rect x="306.30" y="739.56" width="17.40" height="79.44" fill="#fff" stroke="#000" stroke-width="1.6"/>
<line x1="306.30" y1="788.28" x2="323.70" y2="788.28" stroke="#000" stroke-width="1.6" />
<line x1="352.00" y1="825.32" x2="352.00" y2="864.20" stroke="#000" stroke-width="1.4400000000000002" />
<line x1="352.00" y1="864.20" x2="352.00" y2="864.20" stroke="#000" stroke-width="1.4400000000000002" />
<line x1="347.20" y1="825.32" x2="356.80" y2="825.32" stroke="#000" stroke-width="1.6" />
<line x1="347.20" y1="864.20" x2="356.80" y2="864.20" stroke="#000" stroke-width="1.6" />
<rect x="343.30" y="864.20" width="17.40" height="0.00" fill="#fff" stroke="#000" stroke-width="1.6"/>
<line x1="379.80" y1="820.04" x2="379.80" y2="836.60" stroke="#000" stroke-width="1.4400000000000002" />
<line x1="379.80" y1="864.20" x2="379.80" y2="864.20" stroke="#000" stroke-width="1.4400000000000002" />
<line x1="375.00" y1="820.04" x2="384.60" y2="820.04" stroke="#000" stroke-width="1.6" />
<line x1="375.00" y1="864.20" x2="384.60" y2="864.20" stroke="#000" stroke-width="1.6" />
<rect x="371.10" y="836.60" width="17.40" height="27.60" fill="#000" stroke="#000" stroke-width="1.6"/>
<line x1="407.40" y1="808.04" x2="407.40" y2="854.68" stroke="#000" stroke-width="1.4400000000000002" />
<line x1="407.40" y1="864.20" x2="407.40" y2="864.20" stroke="#000" stroke-width="1.4400000000000002" />
<line x1="402.60" y1="808.04" x2="412.20" y2="808.04" stroke="#000" stroke-width="1.6" />
<line x1="402.60" y1="864.20" x2="412.20" y2="864.20" stroke="#000" stroke-width="1.6" />
<rect x="398.70" y="854.68" width="17.40" height="9.52" fill="#80e7fb" stroke="#000" stroke-width="1.6"/>
<line x1="435.20" y1="729.80" x2="435.20" y2="832.60" stroke="#000" stroke-width="1.4400000000000002" />
<line x1="435.20" y1="864.20" x2="435.20" y2="864.20" stroke="#000" stroke-width="1.4400000000000002" />
<line x1="430.40" y1="729.80" x2="440.00" y2="729.80" stroke="#000" stroke-width="1.6" />
<line x1="430.40" y1="864.20" x2="440.00" y2="864.20" stroke="#000" stroke-width="1.6" />
<rect x="426.50" y="832.60" width="17.40" height="31.60" fill="#4ea0fa" stroke="#000" stroke-width="1.6"/>
<line x1="296.70" y1="704.20" x2="296.70" y2="865.00" stroke="#000" stroke-width="1.6" />
<line x1="295.90" y1="864.20" x2="452.30" y2="864.20" stroke="#000" stroke-width="1.6" />
<line x1="290.10" y1="864.20" x2="296.70" y2="864.20" stroke="#000" stroke-width="1.6" />
<text x="287.10" y="867.90" font-size="10.5" font-weight="bold" text-anchor="end" textLength="34.00" lengthAdjust="spacingAndGlyphs" >0.0000</text>
<line x1="290.10" y1="824.20" x2="296.70" y2="824.20" stroke="#000" stroke-width="1.6" />
<text x="287.10" y="827.90" font-size="10.5" font-weight="bold" text-anchor="end" textLength="34.00" lengthAdjust="spacingAndGlyphs" >0.0005</text>
<line x1="290.10" y1="784.20" x2="296.70" y2="784.20" stroke="#000" stroke-width="1.6" />
<text x="287.10" y="787.90" font-size="10.5" font-weight="bold" text-anchor="end" textLength="34.00" lengthAdjust="spacingAndGlyphs" >0.0010</text>
<line x1="290.10" y1="744.20" x2="296.70" y2="744.20" stroke="#000" stroke-width="1.6" />
<text x="287.10" y="747.90" font-size="10.5" font-weight="bold" text-anchor="end" textLength="34.00" lengthAdjust="spacingAndGlyphs" >0.0015</text>
<line x1="290.10" y1="704.20" x2="296.70" y2="704.20" stroke="#000" stroke-width="1.6" />
<text x="287.10" y="707.90" font-size="10.5" font-weight="bold" text-anchor="end" textLength="34.00" lengthAdjust="spacingAndGlyphs" >0.0020</text>
<line x1="315.30" y1="864.20" x2="315.30" y2="871.00" stroke="#000" stroke-width="1.6" />
<line x1="352.00" y1="864.20" x2="352.00" y2="871.00" stroke="#000" stroke-width="1.6" />
<line x1="379.80" y1="864.20" x2="379.80" y2="871.00" stroke="#000" stroke-width="1.6" />
<line x1="407.40" y1="864.20" x2="407.40" y2="871.00" stroke="#000" stroke-width="1.6" />
<line x1="435.20" y1="864.20" x2="435.20" y2="871.00" stroke="#000" stroke-width="1.6" />
<circle cx="315.00" cy="725.80" r="2.5" fill="#fff" stroke="#000" stroke-width="0.85" />
<circle cx="315.00" cy="778.60" r="2.5" fill="#fff" stroke="#000" stroke-width="0.85" />
<circle cx="315.00" cy="797.80" r="2.5" fill="#fff" stroke="#000" stroke-width="0.85" />
<circle cx="315.00" cy="827.72" r="2.5" fill="#fff" stroke="#000" stroke-width="0.85" />
<circle cx="352.00" cy="825.32" r="2.5" fill="#fff" stroke="#000" stroke-width="0.85" />
<circle cx="344.50" cy="864.20" r="2.5" fill="#fff" stroke="#000" stroke-width="0.85" />
<circle cx="348.00" cy="864.20" r="2.5" fill="#fff" stroke="#000" stroke-width="0.85" />
<circle cx="351.60" cy="864.20" r="2.5" fill="#fff" stroke="#000" stroke-width="0.85" />
<circle cx="355.60" cy="864.20" r="2.5" fill="#fff" stroke="#000" stroke-width="0.85" />
<circle cx="359.30" cy="864.20" r="2.5" fill="#fff" stroke="#000" stroke-width="0.85" />
<circle cx="379.80" cy="820.04" r="2.5" fill="#fff" stroke="#000" stroke-width="0.85" />
<circle cx="379.80" cy="828.52" r="2.5" fill="#fff" stroke="#000" stroke-width="0.85" />
<circle cx="379.80" cy="838.68" r="2.5" fill="#fff" stroke="#000" stroke-width="0.85" />
<circle cx="372.90" cy="864.20" r="2.5" fill="#fff" stroke="#000" stroke-width="0.85" />
<circle cx="376.60" cy="864.20" r="2.5" fill="#fff" stroke="#000" stroke-width="0.85" />
<circle cx="380.10" cy="864.20" r="2.5" fill="#fff" stroke="#000" stroke-width="0.85" />
<circle cx="383.70" cy="864.20" r="2.5" fill="#fff" stroke="#000" stroke-width="0.85" />
<circle cx="387.10" cy="864.20" r="2.5" fill="#fff" stroke="#000" stroke-width="0.85" />
<circle cx="407.40" cy="808.04" r="2.5" fill="#fff" stroke="#000" stroke-width="0.85" />
<circle cx="407.40" cy="822.92" r="2.5" fill="#fff" stroke="#000" stroke-width="0.85" />
<circle cx="401.00" cy="864.20" r="2.5" fill="#fff" stroke="#000" stroke-width="0.85" />
<circle cx="404.20" cy="864.20" r="2.5" fill="#fff" stroke="#000" stroke-width="0.85" />
<circle cx="407.40" cy="864.20" r="2.5" fill="#fff" stroke="#000" stroke-width="0.85" />
<circle cx="411.10" cy="864.20" r="2.5" fill="#fff" stroke="#000" stroke-width="0.85" />
<circle cx="414.40" cy="864.20" r="2.5" fill="#fff" stroke="#000" stroke-width="0.85" />
<circle cx="435.20" cy="729.80" r="2.5" fill="#fff" stroke="#000" stroke-width="0.85" />
<circle cx="435.20" cy="798.76" r="2.5" fill="#fff" stroke="#000" stroke-width="0.85" />
<circle cx="428.30" cy="864.20" r="2.5" fill="#fff" stroke="#000" stroke-width="0.85" />
<circle cx="431.50" cy="864.20" r="2.5" fill="#fff" stroke="#000" stroke-width="0.85" />
<circle cx="435.20" cy="864.20" r="2.5" fill="#fff" stroke="#000" stroke-width="0.85" />
<circle cx="438.80" cy="864.20" r="2.5" fill="#fff" stroke="#000" stroke-width="0.85" />
<circle cx="442.00" cy="864.20" r="2.5" fill="#fff" stroke="#000" stroke-width="0.85" />
<path d="M351.60 800.55V806.85M348.30 801.80L354.90 805.60M348.30 805.60L354.90 801.80" stroke="#000" stroke-width="1.60" stroke-linecap="round" fill="none"/>
<path d="M378.20 789.75V796.05M374.90 791.00L381.50 794.80M374.90 794.80L381.50 791.00" stroke="#000" stroke-width="1.60" stroke-linecap="round" fill="none"/>
<path d="M404.90 774.95V781.25M401.60 776.20L408.20 780.00M401.60 780.00L408.20 776.20" stroke="#000" stroke-width="1.60" stroke-linecap="round" fill="none"/>
<path d="M435.50 707.55V713.85M432.20 708.80L438.80 712.60M432.20 712.60L438.80 708.80" stroke="#000" stroke-width="1.60" stroke-linecap="round" fill="none"/>
<text x="368.00" y="693.20" font-size="15" font-style="italic" text-anchor="middle" textLength="103.00" lengthAdjust="spacingAndGlyphs" >Incertae Sedis</text>
<text x="243.90" y="782.90" font-size="12.3" font-weight="bold" text-anchor="middle" textLength="148.80" lengthAdjust="spacingAndGlyphs" transform="rotate(-90 243.90 782.90)" >Relative abundance (%)</text>
<text x="316.40" y="880.40" font-size="8.6" text-anchor="middle" textLength="17.80" lengthAdjust="spacingAndGlyphs" >Veh</text>
<text x="352.70" y="880.40" font-size="8.6" text-anchor="middle" textLength="17.80" lengthAdjust="spacingAndGlyphs" >Veh</text>
<text x="380.30" y="880.40" font-size="8.6" text-anchor="middle" textLength="13.40" lengthAdjust="spacingAndGlyphs" >Flx</text>
<text x="407.70" y="880.40" font-size="8.6" text-anchor="middle" textLength="27.00" lengthAdjust="spacingAndGlyphs" >Pruca</text>
<text x="434.40" y="880.40" font-size="8.6" text-anchor="middle" textLength="27.00" lengthAdjust="spacingAndGlyphs" >Pruca</text>
<text x="407.30" y="889.80" font-size="8.6" text-anchor="middle" textLength="15.50" lengthAdjust="spacingAndGlyphs" >0.5</text>
<text x="434.90" y="889.80" font-size="8.6" text-anchor="middle" textLength="15.00" lengthAdjust="spacingAndGlyphs" >1.5</text>
<line x1="303.70" y1="896.00" x2="327.30" y2="896.00" stroke="#3a3a3a" stroke-width="1.1" />
<line x1="303.70" y1="893.40" x2="303.70" y2="898.60" stroke="#3a3a3a" stroke-width="1.1" />
<line x1="327.30" y1="893.40" x2="327.30" y2="898.60" stroke="#3a3a3a" stroke-width="1.1" />
<line x1="336.40" y1="896.00" x2="450.10" y2="896.00" stroke="#3a3a3a" stroke-width="1.1" />
<line x1="336.40" y1="893.40" x2="336.40" y2="898.60" stroke="#3a3a3a" stroke-width="1.1" />
<line x1="450.10" y1="893.40" x2="450.10" y2="898.60" stroke="#3a3a3a" stroke-width="1.1" />
<text x="315.60" y="906.00" font-size="8.6" text-anchor="middle" textLength="17.80" lengthAdjust="spacingAndGlyphs" >Veh</text>
<text x="392.40" y="906.00" font-size="8.6" text-anchor="middle" textLength="26.50" lengthAdjust="spacingAndGlyphs" >CORT</text>
<line x1="536.30" y1="827.92" x2="536.30" y2="832.06" stroke="#000" stroke-width="1.4400000000000002" />
<line x1="536.30" y1="854.09" x2="536.30" y2="854.41" stroke="#000" stroke-width="1.4400000000000002" />
<line x1="531.50" y1="827.92" x2="541.10" y2="827.92" stroke="#000" stroke-width="1.6" />
<line x1="531.50" y1="854.41" x2="541.10" y2="854.41" stroke="#000" stroke-width="1.6" />
<rect x="527.60" y="832.06" width="17.40" height="22.02" fill="#fff" stroke="#000" stroke-width="1.6"/>
<line x1="527.60" y1="847.07" x2="545.00" y2="847.07" stroke="#000" stroke-width="1.6" />
<line x1="575.40" y1="717.47" x2="575.40" y2="753.70" stroke="#000" stroke-width="1.4400000000000002" />
<line x1="575.40" y1="835.74" x2="575.40" y2="864.30" stroke="#000" stroke-width="1.4400000000000002" />
<line x1="570.60" y1="717.47" x2="580.20" y2="717.47" stroke="#000" stroke-width="1.6" />
<line x1="570.60" y1="864.30" x2="580.20" y2="864.30" stroke="#000" stroke-width="1.6" />
<rect x="566.70" y="753.70" width="17.40" height="82.03" fill="#929292" stroke="#000" stroke-width="1.6"/>
<line x1="566.70" y1="820.09" x2="584.10" y2="820.09" stroke="#000" stroke-width="1.6" />
<line x1="604.80" y1="758.81" x2="604.80" y2="788.33" stroke="#000" stroke-width="1.4400000000000002" />
<line x1="604.80" y1="824.40" x2="604.80" y2="824.40" stroke="#000" stroke-width="1.4400000000000002" />
<line x1="600.00" y1="758.81" x2="609.60" y2="758.81" stroke="#000" stroke-width="1.6" />
<line x1="600.00" y1="824.40" x2="609.60" y2="824.40" stroke="#000" stroke-width="1.6" />
<rect x="596.10" y="788.33" width="17.40" height="36.07" fill="#000" stroke="#000" stroke-width="1.6"/>
<line x1="634.30" y1="764.08" x2="634.30" y2="793.60" stroke="#000" stroke-width="1.4400000000000002" />
<line x1="634.30" y1="825.36" x2="634.30" y2="837.01" stroke="#000" stroke-width="1.4400000000000002" />
<line x1="629.50" y1="764.08" x2="639.10" y2="764.08" stroke="#000" stroke-width="1.6" />
<line x1="629.50" y1="837.01" x2="639.10" y2="837.01" stroke="#000" stroke-width="1.6" />
<rect x="625.60" y="793.60" width="17.40" height="31.76" fill="#80e7fb" stroke="#000" stroke-width="1.6"/>
<line x1="625.60" y1="810.68" x2="643.00" y2="810.68" stroke="#000" stroke-width="1.6" />
<line x1="663.60" y1="723.70" x2="663.60" y2="797.43" stroke="#000" stroke-width="1.4400000000000002" />
<line x1="663.60" y1="840.84" x2="663.60" y2="851.86" stroke="#000" stroke-width="1.4400000000000002" />
<line x1="658.80" y1="723.70" x2="668.40" y2="723.70" stroke="#000" stroke-width="1.6" />
<line x1="658.80" y1="851.86" x2="668.40" y2="851.86" stroke="#000" stroke-width="1.6" />
<rect x="654.90" y="797.43" width="17.40" height="43.41" fill="#4ea0fa" stroke="#000" stroke-width="1.6"/>
<line x1="654.90" y1="829.19" x2="672.30" y2="829.19" stroke="#000" stroke-width="1.6" />
<line x1="516.40" y1="706.30" x2="516.40" y2="866.70" stroke="#000" stroke-width="1.6" />
<line x1="515.60" y1="865.90" x2="683.30" y2="865.90" stroke="#000" stroke-width="1.6" />
<line x1="509.80" y1="865.90" x2="516.40" y2="865.90" stroke="#000" stroke-width="1.6" />
<text x="506.70" y="869.60" font-size="10.5" font-weight="bold" text-anchor="end" textLength="23.00" lengthAdjust="spacingAndGlyphs" >0.00</text>
<line x1="509.80" y1="833.98" x2="516.40" y2="833.98" stroke="#000" stroke-width="1.6" />
<text x="506.70" y="837.68" font-size="10.5" font-weight="bold" text-anchor="end" textLength="23.00" lengthAdjust="spacingAndGlyphs" >0.02</text>
<line x1="509.80" y1="802.06" x2="516.40" y2="802.06" stroke="#000" stroke-width="1.6" />
<text x="506.70" y="805.76" font-size="10.5" font-weight="bold" text-anchor="end" textLength="23.00" lengthAdjust="spacingAndGlyphs" >0.04</text>
<line x1="509.80" y1="770.14" x2="516.40" y2="770.14" stroke="#000" stroke-width="1.6" />
<text x="506.70" y="773.84" font-size="10.5" font-weight="bold" text-anchor="end" textLength="23.00" lengthAdjust="spacingAndGlyphs" >0.06</text>
<line x1="509.80" y1="738.22" x2="516.40" y2="738.22" stroke="#000" stroke-width="1.6" />
<text x="506.70" y="741.92" font-size="10.5" font-weight="bold" text-anchor="end" textLength="23.00" lengthAdjust="spacingAndGlyphs" >0.08</text>
<line x1="509.80" y1="706.30" x2="516.40" y2="706.30" stroke="#000" stroke-width="1.6" />
<text x="506.70" y="710.00" font-size="10.5" font-weight="bold" text-anchor="end" textLength="23.00" lengthAdjust="spacingAndGlyphs" >0.10</text>
<line x1="536.10" y1="865.90" x2="536.10" y2="872.70" stroke="#000" stroke-width="1.6" />
<line x1="575.10" y1="865.90" x2="575.10" y2="872.70" stroke="#000" stroke-width="1.6" />
<line x1="604.80" y1="865.90" x2="604.80" y2="872.70" stroke="#000" stroke-width="1.6" />
<line x1="634.10" y1="865.90" x2="634.10" y2="872.70" stroke="#000" stroke-width="1.6" />
<line x1="663.40" y1="865.90" x2="663.40" y2="872.70" stroke="#000" stroke-width="1.6" />
<circle cx="536.30" cy="827.92" r="2.5" fill="#fff" stroke="#000" stroke-width="0.85" />
<circle cx="536.30" cy="839.73" r="2.5" fill="#fff" stroke="#000" stroke-width="0.85" />
<circle cx="528.90" cy="854.25" r="2.5" fill="#fff" stroke="#000" stroke-width="0.85" />
<circle cx="543.70" cy="854.25" r="2.5" fill="#fff" stroke="#000" stroke-width="0.85" />
<circle cx="575.40" cy="717.47" r="2.5" fill="#fff" stroke="#000" stroke-width="0.85" />
<circle cx="575.40" cy="732.79" r="2.5" fill="#fff" stroke="#000" stroke-width="0.85" />
<circle cx="575.40" cy="773.17" r="2.5" fill="#fff" stroke="#000" stroke-width="0.85" />
<circle cx="568.00" cy="819.30" r="2.5" fill="#fff" stroke="#000" stroke-width="0.85" />
<circle cx="583.00" cy="817.70" r="2.5" fill="#fff" stroke="#000" stroke-width="0.85" />
<circle cx="575.40" cy="821.21" r="2.5" fill="#fff" stroke="#000" stroke-width="0.85" />
<circle cx="575.40" cy="826.80" r="2.5" fill="#fff" stroke="#000" stroke-width="0.85" />
<circle cx="575.40" cy="845.95" r="2.5" fill="#fff" stroke="#000" stroke-width="0.85" />
<circle cx="575.40" cy="864.30" r="2.5" fill="#fff" stroke="#000" stroke-width="0.85" />
<circle cx="604.80" cy="758.81" r="2.5" fill="#fff" stroke="#000" stroke-width="0.85" />
<circle cx="604.80" cy="767.91" r="2.5" fill="#fff" stroke="#000" stroke-width="0.85" />
<circle cx="597.70" cy="794.40" r="2.5" fill="#fff" stroke="#000" stroke-width="0.85" />
<circle cx="604.80" cy="796.79" r="2.5" fill="#fff" stroke="#000" stroke-width="0.85" />
<circle cx="611.90" cy="796.47" r="2.5" fill="#fff" stroke="#000" stroke-width="0.85" />
<circle cx="604.80" cy="808.28" r="2.5" fill="#fff" stroke="#000" stroke-width="0.85" />
<circle cx="604.80" cy="817.22" r="2.5" fill="#fff" stroke="#000" stroke-width="0.85" />
<circle cx="604.80" cy="823.13" r="2.5" fill="#fff" stroke="#000" stroke-width="0.85" />
<circle cx="597.70" cy="825.36" r="2.5" fill="#fff" stroke="#000" stroke-width="0.85" />
<circle cx="611.90" cy="823.45" r="2.5" fill="#fff" stroke="#000" stroke-width="0.85" />
<circle cx="634.30" cy="764.08" r="2.5" fill="#fff" stroke="#000" stroke-width="0.85" />
<circle cx="626.70" cy="791.69" r="2.5" fill="#fff" stroke="#000" stroke-width="0.85" />
<circle cx="641.90" cy="793.12" r="2.5" fill="#fff" stroke="#000" stroke-width="0.85" />
<circle cx="626.70" cy="797.75" r="2.5" fill="#fff" stroke="#000" stroke-width="0.85" />
<circle cx="634.30" cy="807.81" r="2.5" fill="#fff" stroke="#000" stroke-width="0.85" />
<circle cx="634.30" cy="814.35" r="2.5" fill="#fff" stroke="#000" stroke-width="0.85" />
<circle cx="641.90" cy="820.57" r="2.5" fill="#fff" stroke="#000" stroke-width="0.85" />
<circle cx="626.70" cy="823.77" r="2.5" fill="#fff" stroke="#000" stroke-width="0.85" />
<circle cx="641.90" cy="832.54" r="2.5" fill="#fff" stroke="#000" stroke-width="0.85" />
<circle cx="626.70" cy="837.01" r="2.5" fill="#fff" stroke="#000" stroke-width="0.85" />
<circle cx="663.60" cy="723.70" r="2.5" fill="#fff" stroke="#000" stroke-width="0.85" />
<circle cx="663.60" cy="776.52" r="2.5" fill="#fff" stroke="#000" stroke-width="0.85" />
<circle cx="663.60" cy="817.22" r="2.5" fill="#fff" stroke="#000" stroke-width="0.85" />
<circle cx="656.50" cy="826.80" r="2.5" fill="#fff" stroke="#000" stroke-width="0.85" />
<circle cx="671.20" cy="828.71" r="2.5" fill="#fff" stroke="#000" stroke-width="0.85" />
<circle cx="663.60" cy="831.11" r="2.5" fill="#fff" stroke="#000" stroke-width="0.85" />
<circle cx="659.80" cy="841.48" r="2.5" fill="#fff" stroke="#000" stroke-width="0.85" />
<circle cx="667.40" cy="841.48" r="2.5" fill="#fff" stroke="#000" stroke-width="0.85" />
<circle cx="663.60" cy="851.86" r="2.5" fill="#fff" stroke="#000" stroke-width="0.85" />
<path d="M603.00 730.05V736.35M599.70 731.30L606.30 735.10M599.70 735.10L606.30 731.30" stroke="#000" stroke-width="1.60" stroke-linecap="round" fill="none"/>
<path d="M633.40 737.65V743.95M630.10 738.90L636.70 742.70M630.10 742.70L636.70 738.90" stroke="#000" stroke-width="1.60" stroke-linecap="round" fill="none"/>
<text x="576.60" y="693.20" font-size="15" font-style="italic" text-anchor="middle" textLength="91.00" lengthAdjust="spacingAndGlyphs" >Muribaculum</text>
<text x="473.90" y="785.20" font-size="12.3" font-weight="bold" text-anchor="middle" textLength="148.80" lengthAdjust="spacingAndGlyphs" transform="rotate(-90 473.90 785.20)" >Relative abundance (%)</text>
<text x="540.00" y="884.10" font-size="8.6" text-anchor="middle" textLength="17.80" lengthAdjust="spacingAndGlyphs" >Veh</text>
<text x="577.30" y="884.10" font-size="8.6" text-anchor="middle" textLength="17.80" lengthAdjust="spacingAndGlyphs" >Veh</text>
<text x="605.00" y="884.10" font-size="8.6" text-anchor="middle" textLength="13.40" lengthAdjust="spacingAndGlyphs" >Flx</text>
<text x="632.80" y="884.10" font-size="8.6" text-anchor="middle" textLength="27.00" lengthAdjust="spacingAndGlyphs" >Pruca</text>
<text x="661.20" y="884.10" font-size="8.6" text-anchor="middle" textLength="27.00" lengthAdjust="spacingAndGlyphs" >Pruca</text>
<text x="633.00" y="892.80" font-size="8.6" text-anchor="middle" textLength="15.50" lengthAdjust="spacingAndGlyphs" >0.5</text>
<text x="661.70" y="892.80" font-size="8.6" text-anchor="middle" textLength="15.00" lengthAdjust="spacingAndGlyphs" >1.5</text>
<line x1="526.20" y1="899.30" x2="551.50" y2="899.30" stroke="#3a3a3a" stroke-width="1.1" />
<line x1="526.20" y1="896.70" x2="526.20" y2="901.90" stroke="#3a3a3a" stroke-width="1.1" />
<line x1="551.50" y1="896.70" x2="551.50" y2="901.90" stroke="#3a3a3a" stroke-width="1.1" />
<line x1="560.40" y1="899.30" x2="677.60" y2="899.30" stroke="#3a3a3a" stroke-width="1.1" />
<line x1="560.40" y1="896.70" x2="560.40" y2="901.90" stroke="#3a3a3a" stroke-width="1.1" />
<line x1="677.60" y1="896.70" x2="677.60" y2="901.90" stroke="#3a3a3a" stroke-width="1.1" />
<text x="539.30" y="908.70" font-size="8.6" text-anchor="middle" textLength="17.80" lengthAdjust="spacingAndGlyphs" >Veh</text>
<text x="617.80" y="908.70" font-size="8.6" text-anchor="middle" textLength="26.50" lengthAdjust="spacingAndGlyphs" >CORT</text>
</svg>
</body></html>
